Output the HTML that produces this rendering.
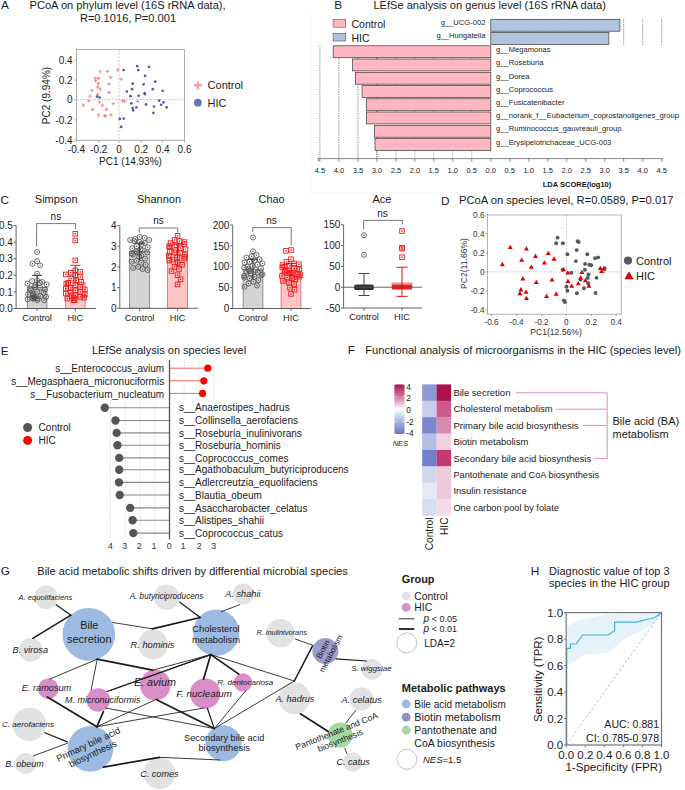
<!DOCTYPE html>
<html><head><meta charset="utf-8"><style>
html,body{margin:0;padding:0;background:#fff;}
svg{display:block;font-family:"Liberation Sans",sans-serif;}
</style></head><body>
<svg width="685" height="790" viewBox="0 0 685 790">
<rect width="685" height="790" fill="#fff"/>
<text x="1.0" y="9.0" font-size="11.8" text-anchor="start" fill="#1a1a1a" >A</text>
<text x="29.5" y="8.9" font-size="11.1" text-anchor="start" fill="#1a1a1a" >PCoA on phylum level (16S rRNA data),</text>
<text x="128.0" y="21.5" font-size="11.1" text-anchor="middle" fill="#1a1a1a" >R=0.1016, P=0.001</text>
<line x1="119.1" y1="49.4" x2="119.1" y2="140.3" stroke="#b0b0b0" stroke-width="0.7" stroke-dasharray="2,1.5"/>
<line x1="76.5" y1="99.6" x2="184.5" y2="99.6" stroke="#b0b0b0" stroke-width="0.7" stroke-dasharray="2,1.5"/>
<rect x="76.5" y="49.4" width="108.0" height="90.9" fill="none" stroke="#9a9a9a" stroke-width="0.8"/>
<line x1="74.3" y1="60.1" x2="76.5" y2="60.1" stroke="#9a9a9a" stroke-width="0.8"/>
<text x="72.6" y="63.7" font-size="10" text-anchor="end" fill="#1a1a1a" >0.4</text>
<line x1="74.3" y1="80.0" x2="76.5" y2="80.0" stroke="#9a9a9a" stroke-width="0.8"/>
<text x="72.6" y="83.6" font-size="10" text-anchor="end" fill="#1a1a1a" >0.2</text>
<line x1="74.3" y1="99.6" x2="76.5" y2="99.6" stroke="#9a9a9a" stroke-width="0.8"/>
<text x="72.6" y="103.2" font-size="10" text-anchor="end" fill="#1a1a1a" >0</text>
<line x1="74.3" y1="119.9" x2="76.5" y2="119.9" stroke="#9a9a9a" stroke-width="0.8"/>
<text x="72.6" y="123.5" font-size="10" text-anchor="end" fill="#1a1a1a" >-0.2</text>
<line x1="74.3" y1="140.0" x2="76.5" y2="140.0" stroke="#9a9a9a" stroke-width="0.8"/>
<text x="72.6" y="143.6" font-size="10" text-anchor="end" fill="#1a1a1a" >-0.4</text>
<line x1="76.5" y1="140.3" x2="76.5" y2="142.5" stroke="#9a9a9a" stroke-width="0.8"/>
<text x="76.5" y="153.0" font-size="10" text-anchor="middle" fill="#1a1a1a" >-0.4</text>
<line x1="98.7" y1="140.3" x2="98.7" y2="142.5" stroke="#9a9a9a" stroke-width="0.8"/>
<text x="98.7" y="153.0" font-size="10" text-anchor="middle" fill="#1a1a1a" >-0.2</text>
<line x1="119.1" y1="140.3" x2="119.1" y2="142.5" stroke="#9a9a9a" stroke-width="0.8"/>
<text x="119.1" y="153.0" font-size="10" text-anchor="middle" fill="#1a1a1a" >0</text>
<line x1="141.2" y1="140.3" x2="141.2" y2="142.5" stroke="#9a9a9a" stroke-width="0.8"/>
<text x="141.2" y="153.0" font-size="10" text-anchor="middle" fill="#1a1a1a" >0.2</text>
<line x1="162.6" y1="140.3" x2="162.6" y2="142.5" stroke="#9a9a9a" stroke-width="0.8"/>
<text x="162.6" y="153.0" font-size="10" text-anchor="middle" fill="#1a1a1a" >0.4</text>
<line x1="184.5" y1="140.3" x2="184.5" y2="142.5" stroke="#9a9a9a" stroke-width="0.8"/>
<text x="184.5" y="153.0" font-size="10" text-anchor="middle" fill="#1a1a1a" >0.6</text>
<text x="130.5" y="164.9" font-size="10" text-anchor="middle" fill="#1a1a1a" >PC1 (14.93%)</text>
<text x="0.0" y="0.0" font-size="10" text-anchor="middle" fill="#1a1a1a" transform="translate(50.2,95.5) rotate(-90)">PC2 (9.94%)</text>
<path d="M98.39,71.80h3.4M100.09,70.10v3.4" stroke="#f08a8a" stroke-width="1.1"/>
<path d="M105.62,71.48h3.4M107.32,69.78v3.4" stroke="#f08a8a" stroke-width="1.1"/>
<path d="M116.05,70.04h3.4M117.75,68.34v3.4" stroke="#f08a8a" stroke-width="1.1"/>
<path d="M108.99,77.42h3.4M110.69,75.72v3.4" stroke="#f08a8a" stroke-width="1.1"/>
<path d="M119.59,79.19h3.4M121.29,77.49v3.4" stroke="#f08a8a" stroke-width="1.1"/>
<path d="M93.57,78.55h3.4M95.27,76.85v3.4" stroke="#f08a8a" stroke-width="1.1"/>
<path d="M96.94,78.39h3.4M98.64,76.69v3.4" stroke="#f08a8a" stroke-width="1.1"/>
<path d="M93.89,80.80h3.4M95.59,79.10v3.4" stroke="#f08a8a" stroke-width="1.1"/>
<path d="M96.78,83.53h3.4M98.48,81.83v3.4" stroke="#f08a8a" stroke-width="1.1"/>
<path d="M107.38,83.85h3.4M109.08,82.15v3.4" stroke="#f08a8a" stroke-width="1.1"/>
<path d="M95.98,87.06h3.4M97.68,85.36v3.4" stroke="#f08a8a" stroke-width="1.1"/>
<path d="M98.39,89.15h3.4M100.09,87.45v3.4" stroke="#f08a8a" stroke-width="1.1"/>
<path d="M90.36,90.27h3.4M92.06,88.57v3.4" stroke="#f08a8a" stroke-width="1.1"/>
<path d="M107.38,92.36h3.4M109.08,90.66v3.4" stroke="#f08a8a" stroke-width="1.1"/>
<path d="M95.98,94.29h3.4M97.68,92.59v3.4" stroke="#f08a8a" stroke-width="1.1"/>
<path d="M88.27,96.21h3.4M89.97,94.51v3.4" stroke="#f08a8a" stroke-width="1.1"/>
<path d="M87.15,100.87h3.4M88.85,99.17v3.4" stroke="#f08a8a" stroke-width="1.1"/>
<path d="M97.75,102.00h3.4M99.45,100.30v3.4" stroke="#f08a8a" stroke-width="1.1"/>
<path d="M111.56,103.76h3.4M113.26,102.06v3.4" stroke="#f08a8a" stroke-width="1.1"/>
<path d="M81.69,105.21h3.4M83.39,103.51v3.4" stroke="#f08a8a" stroke-width="1.1"/>
<path d="M100.80,105.21h3.4M102.50,103.51v3.4" stroke="#f08a8a" stroke-width="1.1"/>
<path d="M120.71,100.71h3.4M122.41,99.01v3.4" stroke="#f08a8a" stroke-width="1.1"/>
<path d="M122.80,101.19h3.4M124.50,99.49v3.4" stroke="#f08a8a" stroke-width="1.1"/>
<path d="M136.13,101.35h3.4M137.83,99.65v3.4" stroke="#f08a8a" stroke-width="1.1"/>
<path d="M90.84,109.54h3.4M92.54,107.84v3.4" stroke="#f08a8a" stroke-width="1.1"/>
<path d="M104.81,109.38h3.4M106.51,107.68v3.4" stroke="#f08a8a" stroke-width="1.1"/>
<path d="M96.78,115.00h3.4M98.48,113.30v3.4" stroke="#f08a8a" stroke-width="1.1"/>
<path d="M102.89,116.13h3.4M104.59,114.43v3.4" stroke="#f08a8a" stroke-width="1.1"/>
<path d="M103.53,115.65h3.4M105.23,113.95v3.4" stroke="#f08a8a" stroke-width="1.1"/>
<path d="M109.31,114.84h3.4M111.01,113.14v3.4" stroke="#f08a8a" stroke-width="1.1"/>
<circle cx="137.19" cy="66.18" r="1.35" fill="#4f5ca8"/>
<circle cx="149.07" cy="66.83" r="1.35" fill="#4f5ca8"/>
<circle cx="123.70" cy="70.04" r="1.35" fill="#4f5ca8"/>
<circle cx="138.31" cy="70.04" r="1.35" fill="#4f5ca8"/>
<circle cx="145.05" cy="75.82" r="1.35" fill="#4f5ca8"/>
<circle cx="155.17" cy="81.60" r="1.35" fill="#4f5ca8"/>
<circle cx="132.69" cy="83.69" r="1.35" fill="#4f5ca8"/>
<circle cx="143.61" cy="84.33" r="1.35" fill="#4f5ca8"/>
<circle cx="132.05" cy="89.15" r="1.35" fill="#4f5ca8"/>
<circle cx="152.76" cy="89.15" r="1.35" fill="#4f5ca8"/>
<circle cx="126.91" cy="91.56" r="1.35" fill="#4f5ca8"/>
<circle cx="162.72" cy="90.75" r="1.35" fill="#4f5ca8"/>
<circle cx="144.73" cy="93.16" r="1.35" fill="#4f5ca8"/>
<circle cx="144.89" cy="94.13" r="1.35" fill="#4f5ca8"/>
<circle cx="138.63" cy="95.73" r="1.35" fill="#4f5ca8"/>
<circle cx="130.44" cy="96.21" r="1.35" fill="#4f5ca8"/>
<circle cx="97.04" cy="96.53" r="1.35" fill="#4f5ca8"/>
<circle cx="99.61" cy="97.50" r="1.35" fill="#4f5ca8"/>
<circle cx="159.19" cy="100.71" r="1.35" fill="#4f5ca8"/>
<circle cx="163.52" cy="102.32" r="1.35" fill="#4f5ca8"/>
<circle cx="131.24" cy="103.28" r="1.35" fill="#4f5ca8"/>
<circle cx="146.02" cy="104.40" r="1.35" fill="#4f5ca8"/>
<circle cx="161.11" cy="104.73" r="1.35" fill="#4f5ca8"/>
<circle cx="132.69" cy="108.10" r="1.35" fill="#4f5ca8"/>
<circle cx="136.38" cy="107.46" r="1.35" fill="#4f5ca8"/>
<circle cx="154.05" cy="106.49" r="1.35" fill="#4f5ca8"/>
<circle cx="133.17" cy="110.35" r="1.35" fill="#4f5ca8"/>
<circle cx="166.73" cy="107.29" r="1.35" fill="#4f5ca8"/>
<circle cx="153.40" cy="112.92" r="1.35" fill="#4f5ca8"/>
<circle cx="119.84" cy="118.86" r="1.35" fill="#4f5ca8"/>
<circle cx="123.70" cy="118.54" r="1.35" fill="#4f5ca8"/>
<circle cx="121.13" cy="126.89" r="1.35" fill="#4f5ca8"/>
<path d="M194,85.3h7.8M197.9,81.4v7.8" stroke="#f4a0a0" stroke-width="2.4"/>
<text x="207.6" y="89.3" font-size="11" text-anchor="start" fill="#1a1a1a" >Control</text>
<circle cx="197.9" cy="102.7" r="3.9" fill="#6b77b5"/>
<text x="207.6" y="106.7" font-size="11" text-anchor="start" fill="#1a1a1a" >HIC</text>
<path d="M310.8,15.2V192.6H684" fill="none" stroke="#f3f3f3" stroke-width="0.8"/>
<text x="338.2" y="9.0" font-size="11.8" text-anchor="middle" fill="#1a1a1a" >B</text>
<text x="373.4" y="9.3" font-size="11.1" text-anchor="start" fill="#1a1a1a" >LEfSe analysis on genus level (16S rRNA data)</text>
<line x1="471.8" y1="45.8" x2="471.8" y2="158.6" stroke="#666" stroke-width="0.6" stroke-dasharray="1.2,1.2"/>
<line x1="509.8" y1="19.3" x2="509.8" y2="45.8" stroke="#666" stroke-width="0.6" stroke-dasharray="1.2,1.2"/>
<line x1="452.8" y1="45.8" x2="452.8" y2="158.6" stroke="#666" stroke-width="0.6" stroke-dasharray="1.2,1.2"/>
<line x1="528.8" y1="19.3" x2="528.8" y2="45.8" stroke="#666" stroke-width="0.6" stroke-dasharray="1.2,1.2"/>
<line x1="433.8" y1="45.8" x2="433.8" y2="158.6" stroke="#666" stroke-width="0.6" stroke-dasharray="1.2,1.2"/>
<line x1="547.8" y1="19.3" x2="547.8" y2="45.8" stroke="#666" stroke-width="0.6" stroke-dasharray="1.2,1.2"/>
<line x1="414.9" y1="45.8" x2="414.9" y2="158.6" stroke="#666" stroke-width="0.6" stroke-dasharray="1.2,1.2"/>
<line x1="566.7" y1="19.3" x2="566.7" y2="45.8" stroke="#666" stroke-width="0.6" stroke-dasharray="1.2,1.2"/>
<line x1="395.9" y1="45.8" x2="395.9" y2="158.6" stroke="#666" stroke-width="0.6" stroke-dasharray="1.2,1.2"/>
<line x1="585.7" y1="19.3" x2="585.7" y2="45.8" stroke="#666" stroke-width="0.6" stroke-dasharray="1.2,1.2"/>
<line x1="376.9" y1="45.8" x2="376.9" y2="158.6" stroke="#666" stroke-width="0.6" stroke-dasharray="1.2,1.2"/>
<line x1="604.7" y1="19.3" x2="604.7" y2="45.8" stroke="#666" stroke-width="0.6" stroke-dasharray="1.2,1.2"/>
<line x1="357.9" y1="45.8" x2="357.9" y2="158.6" stroke="#444" stroke-width="0.7" stroke-dasharray="1.2,1.2"/>
<line x1="623.7" y1="19.3" x2="623.7" y2="45.8" stroke="#444" stroke-width="0.7" stroke-dasharray="1.2,1.2"/>
<line x1="338.9" y1="45.8" x2="338.9" y2="158.6" stroke="#444" stroke-width="0.7" stroke-dasharray="1.2,1.2"/>
<line x1="642.7" y1="19.3" x2="642.7" y2="45.8" stroke="#444" stroke-width="0.7" stroke-dasharray="1.2,1.2"/>
<line x1="319.9" y1="45.8" x2="319.9" y2="158.6" stroke="#444" stroke-width="0.7" stroke-dasharray="1.2,1.2"/>
<line x1="661.7" y1="19.3" x2="661.7" y2="45.8" stroke="#444" stroke-width="0.7" stroke-dasharray="1.2,1.2"/>
<line x1="376.9" y1="45.8" x2="376.9" y2="158.6" stroke="#444" stroke-width="0.7" stroke-dasharray="1.2,1.2"/>
<rect x="490.8" y="19.3" width="129.1" height="11.9" fill="#b0c4de" stroke="#3a3a3a" stroke-width="0.7"/>
<text x="485.4" y="25.1" font-size="7.6" text-anchor="end" fill="#222" >g__UCG-002</text>
<rect x="490.8" y="32.5" width="118.1" height="11.9" fill="#b0c4de" stroke="#3a3a3a" stroke-width="0.7"/>
<text x="485.4" y="38.4" font-size="7.6" text-anchor="end" fill="#222" >g__Hungatella</text>
<rect x="333.2" y="45.8" width="157.6" height="11.9" fill="#ffb6c1" stroke="#3a3a3a" stroke-width="0.7"/>
<text x="496.1" y="52.0" font-size="7.6" text-anchor="start" fill="#222" >g__Megamonas</text>
<rect x="352.6" y="59.0" width="138.2" height="11.9" fill="#ffb6c1" stroke="#3a3a3a" stroke-width="0.7"/>
<text x="496.1" y="65.2" font-size="7.6" text-anchor="start" fill="#222" >g__Roseburia</text>
<rect x="355.6" y="72.3" width="135.2" height="11.9" fill="#ffb6c1" stroke="#3a3a3a" stroke-width="0.7"/>
<text x="496.1" y="78.5" font-size="7.6" text-anchor="start" fill="#222" >g__Dorea</text>
<rect x="362.1" y="85.5" width="128.7" height="11.9" fill="#ffb6c1" stroke="#3a3a3a" stroke-width="0.7"/>
<text x="496.1" y="91.7" font-size="7.6" text-anchor="start" fill="#222" >g__Coprococcus</text>
<rect x="366.6" y="98.8" width="124.2" height="11.9" fill="#ffb6c1" stroke="#3a3a3a" stroke-width="0.7"/>
<text x="496.1" y="105.0" font-size="7.6" text-anchor="start" fill="#222" >g__Fusicatenibacter</text>
<rect x="366.6" y="112.0" width="124.2" height="11.9" fill="#ffb6c1" stroke="#3a3a3a" stroke-width="0.7"/>
<text x="496.1" y="118.2" font-size="7.6" text-anchor="start" fill="#222" >g__norank_f__Eubacterium_coprostanoligenes_group</text>
<rect x="374.6" y="125.3" width="116.2" height="11.9" fill="#ffb6c1" stroke="#3a3a3a" stroke-width="0.7"/>
<text x="496.1" y="131.4" font-size="7.6" text-anchor="start" fill="#222" >g__Ruminococcus_gauvreauii_group</text>
<rect x="375.0" y="138.6" width="115.8" height="11.9" fill="#ffb6c1" stroke="#3a3a3a" stroke-width="0.7"/>
<text x="496.1" y="144.7" font-size="7.6" text-anchor="start" fill="#222" >g__Erysipelotrichaceae_UCG-003</text>
<rect x="333.1" y="19.6" width="12.6" height="7.6" fill="#ffb6c1" stroke="#555" stroke-width="0.6"/>
<text x="351.5" y="28.0" font-size="10.5" text-anchor="start" fill="#1a1a1a" >Control</text>
<rect x="333.1" y="33.4" width="12.6" height="7.6" fill="#b0c4de" stroke="#555" stroke-width="0.6"/>
<text x="351.5" y="41.8" font-size="10.5" text-anchor="start" fill="#1a1a1a" >HIC</text>
<line x1="317.9" y1="158.6" x2="663.2" y2="158.6" stroke="#555" stroke-width="0.7"/>
<line x1="319.9" y1="158.6" x2="319.9" y2="161.6" stroke="#555" stroke-width="0.7"/>
<text x="319.9" y="172.5" font-size="7.5" text-anchor="middle" fill="#222" >4.5</text>
<line x1="338.9" y1="158.6" x2="338.9" y2="161.6" stroke="#555" stroke-width="0.7"/>
<text x="338.9" y="172.5" font-size="7.5" text-anchor="middle" fill="#222" >4.0</text>
<line x1="357.9" y1="158.6" x2="357.9" y2="161.6" stroke="#555" stroke-width="0.7"/>
<text x="357.9" y="172.5" font-size="7.5" text-anchor="middle" fill="#222" >3.5</text>
<line x1="376.9" y1="158.6" x2="376.9" y2="161.6" stroke="#555" stroke-width="0.7"/>
<text x="376.9" y="172.5" font-size="7.5" text-anchor="middle" fill="#222" >3.0</text>
<line x1="395.9" y1="158.6" x2="395.9" y2="161.6" stroke="#555" stroke-width="0.7"/>
<text x="395.9" y="172.5" font-size="7.5" text-anchor="middle" fill="#222" >2.5</text>
<line x1="414.9" y1="158.6" x2="414.9" y2="161.6" stroke="#555" stroke-width="0.7"/>
<text x="414.9" y="172.5" font-size="7.5" text-anchor="middle" fill="#222" >2.0</text>
<line x1="433.8" y1="158.6" x2="433.8" y2="161.6" stroke="#555" stroke-width="0.7"/>
<text x="433.8" y="172.5" font-size="7.5" text-anchor="middle" fill="#222" >1.5</text>
<line x1="452.8" y1="158.6" x2="452.8" y2="161.6" stroke="#555" stroke-width="0.7"/>
<text x="452.8" y="172.5" font-size="7.5" text-anchor="middle" fill="#222" >1.0</text>
<line x1="471.8" y1="158.6" x2="471.8" y2="161.6" stroke="#555" stroke-width="0.7"/>
<text x="471.8" y="172.5" font-size="7.5" text-anchor="middle" fill="#222" >0.5</text>
<line x1="490.8" y1="158.6" x2="490.8" y2="161.6" stroke="#555" stroke-width="0.7"/>
<text x="490.8" y="172.5" font-size="7.5" text-anchor="middle" fill="#222" >0.0</text>
<line x1="509.8" y1="158.6" x2="509.8" y2="161.6" stroke="#555" stroke-width="0.7"/>
<text x="509.8" y="172.5" font-size="7.5" text-anchor="middle" fill="#222" >0.5</text>
<line x1="528.8" y1="158.6" x2="528.8" y2="161.6" stroke="#555" stroke-width="0.7"/>
<text x="528.8" y="172.5" font-size="7.5" text-anchor="middle" fill="#222" >1.0</text>
<line x1="547.8" y1="158.6" x2="547.8" y2="161.6" stroke="#555" stroke-width="0.7"/>
<text x="547.8" y="172.5" font-size="7.5" text-anchor="middle" fill="#222" >1.5</text>
<line x1="566.7" y1="158.6" x2="566.7" y2="161.6" stroke="#555" stroke-width="0.7"/>
<text x="566.7" y="172.5" font-size="7.5" text-anchor="middle" fill="#222" >2.0</text>
<line x1="585.7" y1="158.6" x2="585.7" y2="161.6" stroke="#555" stroke-width="0.7"/>
<text x="585.7" y="172.5" font-size="7.5" text-anchor="middle" fill="#222" >2.5</text>
<line x1="604.7" y1="158.6" x2="604.7" y2="161.6" stroke="#555" stroke-width="0.7"/>
<text x="604.7" y="172.5" font-size="7.5" text-anchor="middle" fill="#222" >3.0</text>
<line x1="623.7" y1="158.6" x2="623.7" y2="161.6" stroke="#555" stroke-width="0.7"/>
<text x="623.7" y="172.5" font-size="7.5" text-anchor="middle" fill="#222" >3.5</text>
<line x1="642.7" y1="158.6" x2="642.7" y2="161.6" stroke="#555" stroke-width="0.7"/>
<text x="642.7" y="172.5" font-size="7.5" text-anchor="middle" fill="#222" >4.0</text>
<line x1="661.7" y1="158.6" x2="661.7" y2="161.6" stroke="#555" stroke-width="0.7"/>
<text x="661.7" y="172.5" font-size="7.5" text-anchor="middle" fill="#222" >4.5</text>
<line x1="318.4" y1="158.6" x2="318.4" y2="161.6" stroke="#555" stroke-width="0.7"/>
<text x="577.0" y="187.0" font-size="7.5" text-anchor="middle" fill="#111" font-weight="bold">LDA SCORE(log10)</text>
<text x="0.6" y="203.7" font-size="11.8" text-anchor="start" fill="#1a1a1a" >C</text>
<text x="56.2" y="203.4" font-size="11" text-anchor="middle" fill="#1a1a1a" >Simpson</text>
<rect x="27.3" y="287.25" width="19.599999999999998" height="21.25" fill="#d4d4d4" stroke="#7a7a7a" stroke-width="0.8"/>
<rect x="65.5" y="282.27" width="19.599999999999994" height="26.23" fill="#ffc4c4" stroke="#e06060" stroke-width="0.8"/>
<circle cx="37.10" cy="252.06" r="2.5" fill="none" stroke="#4a4a4a" stroke-width="0.8"/><circle cx="37.10" cy="252.06" r="0.7" fill="#4a4a4a"/>
<circle cx="37.10" cy="261.19" r="2.5" fill="none" stroke="#4a4a4a" stroke-width="0.8"/><circle cx="37.10" cy="261.19" r="0.7" fill="#4a4a4a"/>
<circle cx="32.60" cy="263.68" r="2.5" fill="none" stroke="#4a4a4a" stroke-width="0.8"/><circle cx="32.60" cy="263.68" r="0.7" fill="#4a4a4a"/>
<circle cx="40.10" cy="265.34" r="2.5" fill="none" stroke="#4a4a4a" stroke-width="0.8"/><circle cx="40.10" cy="265.34" r="0.7" fill="#4a4a4a"/>
<circle cx="37.10" cy="273.64" r="2.5" fill="none" stroke="#4a4a4a" stroke-width="0.8"/><circle cx="37.10" cy="273.64" r="0.7" fill="#4a4a4a"/>
<circle cx="37.10" cy="280.28" r="2.5" fill="none" stroke="#4a4a4a" stroke-width="0.8"/><circle cx="37.10" cy="280.28" r="0.7" fill="#4a4a4a"/>
<circle cx="32.10" cy="281.11" r="2.5" fill="none" stroke="#4a4a4a" stroke-width="0.8"/><circle cx="32.10" cy="281.11" r="0.7" fill="#4a4a4a"/>
<circle cx="42.10" cy="281.94" r="2.5" fill="none" stroke="#4a4a4a" stroke-width="0.8"/><circle cx="42.10" cy="281.94" r="0.7" fill="#4a4a4a"/>
<circle cx="39.82" cy="282.77" r="2.5" fill="none" stroke="#4a4a4a" stroke-width="0.8"/><circle cx="39.82" cy="282.77" r="0.7" fill="#4a4a4a"/>
<circle cx="27.60" cy="283.60" r="2.5" fill="none" stroke="#4a4a4a" stroke-width="0.8"/><circle cx="27.60" cy="283.60" r="0.7" fill="#4a4a4a"/>
<circle cx="46.60" cy="284.43" r="2.5" fill="none" stroke="#4a4a4a" stroke-width="0.8"/><circle cx="46.60" cy="284.43" r="0.7" fill="#4a4a4a"/>
<circle cx="35.10" cy="285.26" r="2.5" fill="none" stroke="#4a4a4a" stroke-width="0.8"/><circle cx="35.10" cy="285.26" r="0.7" fill="#4a4a4a"/>
<circle cx="35.17" cy="286.92" r="2.5" fill="none" stroke="#4a4a4a" stroke-width="0.8"/><circle cx="35.17" cy="286.92" r="0.7" fill="#4a4a4a"/>
<circle cx="40.10" cy="287.75" r="2.5" fill="none" stroke="#4a4a4a" stroke-width="0.8"/><circle cx="40.10" cy="287.75" r="0.7" fill="#4a4a4a"/>
<circle cx="30.10" cy="288.58" r="2.5" fill="none" stroke="#4a4a4a" stroke-width="0.8"/><circle cx="30.10" cy="288.58" r="0.7" fill="#4a4a4a"/>
<circle cx="45.10" cy="289.41" r="2.5" fill="none" stroke="#4a4a4a" stroke-width="0.8"/><circle cx="45.10" cy="289.41" r="0.7" fill="#4a4a4a"/>
<circle cx="30.92" cy="290.24" r="2.5" fill="none" stroke="#4a4a4a" stroke-width="0.8"/><circle cx="30.92" cy="290.24" r="0.7" fill="#4a4a4a"/>
<circle cx="37.10" cy="291.90" r="2.5" fill="none" stroke="#4a4a4a" stroke-width="0.8"/><circle cx="37.10" cy="291.90" r="0.7" fill="#4a4a4a"/>
<circle cx="43.47" cy="292.73" r="2.5" fill="none" stroke="#4a4a4a" stroke-width="0.8"/><circle cx="43.47" cy="292.73" r="0.7" fill="#4a4a4a"/>
<circle cx="33.15" cy="293.56" r="2.5" fill="none" stroke="#4a4a4a" stroke-width="0.8"/><circle cx="33.15" cy="293.56" r="0.7" fill="#4a4a4a"/>
<circle cx="28.10" cy="294.39" r="2.5" fill="none" stroke="#4a4a4a" stroke-width="0.8"/><circle cx="28.10" cy="294.39" r="0.7" fill="#4a4a4a"/>
<circle cx="32.91" cy="295.22" r="2.5" fill="none" stroke="#4a4a4a" stroke-width="0.8"/><circle cx="32.91" cy="295.22" r="0.7" fill="#4a4a4a"/>
<circle cx="40.31" cy="296.05" r="2.5" fill="none" stroke="#4a4a4a" stroke-width="0.8"/><circle cx="40.31" cy="296.05" r="0.7" fill="#4a4a4a"/>
<circle cx="46.10" cy="296.88" r="2.5" fill="none" stroke="#4a4a4a" stroke-width="0.8"/><circle cx="46.10" cy="296.88" r="0.7" fill="#4a4a4a"/>
<circle cx="34.16" cy="296.88" r="2.5" fill="none" stroke="#4a4a4a" stroke-width="0.8"/><circle cx="34.16" cy="296.88" r="0.7" fill="#4a4a4a"/>
<circle cx="34.41" cy="297.71" r="2.5" fill="none" stroke="#4a4a4a" stroke-width="0.8"/><circle cx="34.41" cy="297.71" r="0.7" fill="#4a4a4a"/>
<circle cx="33.31" cy="298.54" r="2.5" fill="none" stroke="#4a4a4a" stroke-width="0.8"/><circle cx="33.31" cy="298.54" r="0.7" fill="#4a4a4a"/>
<circle cx="32.81" cy="298.54" r="2.5" fill="none" stroke="#4a4a4a" stroke-width="0.8"/><circle cx="32.81" cy="298.54" r="0.7" fill="#4a4a4a"/>
<circle cx="37.64" cy="298.54" r="2.5" fill="none" stroke="#4a4a4a" stroke-width="0.8"/><circle cx="37.64" cy="298.54" r="0.7" fill="#4a4a4a"/>
<circle cx="27.60" cy="299.37" r="2.5" fill="none" stroke="#4a4a4a" stroke-width="0.8"/><circle cx="27.60" cy="299.37" r="0.7" fill="#4a4a4a"/>
<circle cx="44.00" cy="300.20" r="2.5" fill="none" stroke="#4a4a4a" stroke-width="0.8"/><circle cx="44.00" cy="300.20" r="0.7" fill="#4a4a4a"/>
<circle cx="37.20" cy="300.20" r="2.5" fill="none" stroke="#4a4a4a" stroke-width="0.8"/><circle cx="37.20" cy="300.20" r="0.7" fill="#4a4a4a"/>
<rect x="73.00" y="231.50" width="4.6" height="4.6" fill="none" stroke="#ee1c1c" stroke-width="0.9"/><rect x="74.60" y="233.10" width="1.4" height="1.4" fill="#ee1c1c"/>
<rect x="73.00" y="238.14" width="4.6" height="4.6" fill="none" stroke="#ee1c1c" stroke-width="0.9"/><rect x="74.60" y="239.74" width="1.4" height="1.4" fill="#ee1c1c"/>
<rect x="73.00" y="258.06" width="4.6" height="4.6" fill="none" stroke="#ee1c1c" stroke-width="0.9"/><rect x="74.60" y="259.66" width="1.4" height="1.4" fill="#ee1c1c"/>
<rect x="73.00" y="268.02" width="4.6" height="4.6" fill="none" stroke="#ee1c1c" stroke-width="0.9"/><rect x="74.60" y="269.62" width="1.4" height="1.4" fill="#ee1c1c"/>
<rect x="78.00" y="269.68" width="4.6" height="4.6" fill="none" stroke="#ee1c1c" stroke-width="0.9"/><rect x="79.60" y="271.28" width="1.4" height="1.4" fill="#ee1c1c"/>
<rect x="68.50" y="270.51" width="4.6" height="4.6" fill="none" stroke="#ee1c1c" stroke-width="0.9"/><rect x="70.10" y="272.11" width="1.4" height="1.4" fill="#ee1c1c"/>
<rect x="63.50" y="272.17" width="4.6" height="4.6" fill="none" stroke="#ee1c1c" stroke-width="0.9"/><rect x="65.10" y="273.77" width="1.4" height="1.4" fill="#ee1c1c"/>
<rect x="73.00" y="273.00" width="4.6" height="4.6" fill="none" stroke="#ee1c1c" stroke-width="0.9"/><rect x="74.60" y="274.60" width="1.4" height="1.4" fill="#ee1c1c"/>
<rect x="78.00" y="274.66" width="4.6" height="4.6" fill="none" stroke="#ee1c1c" stroke-width="0.9"/><rect x="79.60" y="276.26" width="1.4" height="1.4" fill="#ee1c1c"/>
<rect x="69.00" y="276.32" width="4.6" height="4.6" fill="none" stroke="#ee1c1c" stroke-width="0.9"/><rect x="70.60" y="277.92" width="1.4" height="1.4" fill="#ee1c1c"/>
<rect x="74.00" y="277.98" width="4.6" height="4.6" fill="none" stroke="#ee1c1c" stroke-width="0.9"/><rect x="75.60" y="279.58" width="1.4" height="1.4" fill="#ee1c1c"/>
<rect x="79.00" y="279.64" width="4.6" height="4.6" fill="none" stroke="#ee1c1c" stroke-width="0.9"/><rect x="80.60" y="281.24" width="1.4" height="1.4" fill="#ee1c1c"/>
<rect x="66.00" y="280.47" width="4.6" height="4.6" fill="none" stroke="#ee1c1c" stroke-width="0.9"/><rect x="67.60" y="282.07" width="1.4" height="1.4" fill="#ee1c1c"/>
<rect x="64.04" y="281.30" width="4.6" height="4.6" fill="none" stroke="#ee1c1c" stroke-width="0.9"/><rect x="65.64" y="282.90" width="1.4" height="1.4" fill="#ee1c1c"/>
<rect x="73.00" y="282.96" width="4.6" height="4.6" fill="none" stroke="#ee1c1c" stroke-width="0.9"/><rect x="74.60" y="284.56" width="1.4" height="1.4" fill="#ee1c1c"/>
<rect x="78.00" y="284.62" width="4.6" height="4.6" fill="none" stroke="#ee1c1c" stroke-width="0.9"/><rect x="79.60" y="286.22" width="1.4" height="1.4" fill="#ee1c1c"/>
<rect x="68.50" y="285.45" width="4.6" height="4.6" fill="none" stroke="#ee1c1c" stroke-width="0.9"/><rect x="70.10" y="287.05" width="1.4" height="1.4" fill="#ee1c1c"/>
<rect x="63.50" y="286.28" width="4.6" height="4.6" fill="none" stroke="#ee1c1c" stroke-width="0.9"/><rect x="65.10" y="287.88" width="1.4" height="1.4" fill="#ee1c1c"/>
<rect x="82.50" y="287.11" width="4.6" height="4.6" fill="none" stroke="#ee1c1c" stroke-width="0.9"/><rect x="84.10" y="288.71" width="1.4" height="1.4" fill="#ee1c1c"/>
<rect x="73.00" y="287.94" width="4.6" height="4.6" fill="none" stroke="#ee1c1c" stroke-width="0.9"/><rect x="74.60" y="289.54" width="1.4" height="1.4" fill="#ee1c1c"/>
<rect x="78.00" y="289.60" width="4.6" height="4.6" fill="none" stroke="#ee1c1c" stroke-width="0.9"/><rect x="79.60" y="291.20" width="1.4" height="1.4" fill="#ee1c1c"/>
<rect x="68.50" y="290.43" width="4.6" height="4.6" fill="none" stroke="#ee1c1c" stroke-width="0.9"/><rect x="70.10" y="292.03" width="1.4" height="1.4" fill="#ee1c1c"/>
<rect x="63.50" y="291.26" width="4.6" height="4.6" fill="none" stroke="#ee1c1c" stroke-width="0.9"/><rect x="65.10" y="292.86" width="1.4" height="1.4" fill="#ee1c1c"/>
<rect x="82.50" y="292.09" width="4.6" height="4.6" fill="none" stroke="#ee1c1c" stroke-width="0.9"/><rect x="84.10" y="293.69" width="1.4" height="1.4" fill="#ee1c1c"/>
<rect x="73.00" y="292.92" width="4.6" height="4.6" fill="none" stroke="#ee1c1c" stroke-width="0.9"/><rect x="74.60" y="294.52" width="1.4" height="1.4" fill="#ee1c1c"/>
<rect x="69.32" y="293.75" width="4.6" height="4.6" fill="none" stroke="#ee1c1c" stroke-width="0.9"/><rect x="70.92" y="295.35" width="1.4" height="1.4" fill="#ee1c1c"/>
<rect x="78.00" y="294.58" width="4.6" height="4.6" fill="none" stroke="#ee1c1c" stroke-width="0.9"/><rect x="79.60" y="296.18" width="1.4" height="1.4" fill="#ee1c1c"/>
<rect x="81.76" y="295.41" width="4.6" height="4.6" fill="none" stroke="#ee1c1c" stroke-width="0.9"/><rect x="83.36" y="297.01" width="1.4" height="1.4" fill="#ee1c1c"/>
<rect x="65.00" y="296.24" width="4.6" height="4.6" fill="none" stroke="#ee1c1c" stroke-width="0.9"/><rect x="66.60" y="297.84" width="1.4" height="1.4" fill="#ee1c1c"/>
<rect x="71.77" y="296.24" width="4.6" height="4.6" fill="none" stroke="#ee1c1c" stroke-width="0.9"/><rect x="73.37" y="297.84" width="1.4" height="1.4" fill="#ee1c1c"/>
<rect x="72.26" y="297.90" width="4.6" height="4.6" fill="none" stroke="#ee1c1c" stroke-width="0.9"/><rect x="73.86" y="299.50" width="1.4" height="1.4" fill="#ee1c1c"/>
<rect x="71.21" y="297.90" width="4.6" height="4.6" fill="none" stroke="#ee1c1c" stroke-width="0.9"/><rect x="72.81" y="299.50" width="1.4" height="1.4" fill="#ee1c1c"/>
<path d="M37.1,287.25V275.30M32.1,275.30h10" stroke="#333" stroke-width="1" fill="none"/>
<path d="M75.3,282.27V265.34M70.3,265.34h10" stroke="#e01010" stroke-width="1" fill="none"/>
<line x1="16.1" y1="225.50" x2="16.1" y2="308.5" stroke="#555" stroke-width="0.9"/>
<line x1="16.1" y1="308.5" x2="95.6" y2="308.5" stroke="#555" stroke-width="0.9"/>
<line x1="13.500000000000002" y1="308.50" x2="16.1" y2="308.50" stroke="#555" stroke-width="0.9"/>
<text x="12.8" y="312.1" font-size="10" text-anchor="end" fill="#1a1a1a" >0.0</text>
<line x1="13.500000000000002" y1="291.90" x2="16.1" y2="291.90" stroke="#555" stroke-width="0.9"/>
<text x="12.8" y="295.5" font-size="10" text-anchor="end" fill="#1a1a1a" >0.1</text>
<line x1="13.500000000000002" y1="275.30" x2="16.1" y2="275.30" stroke="#555" stroke-width="0.9"/>
<text x="12.8" y="278.9" font-size="10" text-anchor="end" fill="#1a1a1a" >0.2</text>
<line x1="13.500000000000002" y1="258.70" x2="16.1" y2="258.70" stroke="#555" stroke-width="0.9"/>
<text x="12.8" y="262.3" font-size="10" text-anchor="end" fill="#1a1a1a" >0.3</text>
<line x1="13.500000000000002" y1="242.10" x2="16.1" y2="242.10" stroke="#555" stroke-width="0.9"/>
<text x="12.8" y="245.7" font-size="10" text-anchor="end" fill="#1a1a1a" >0.4</text>
<line x1="13.500000000000002" y1="225.50" x2="16.1" y2="225.50" stroke="#555" stroke-width="0.9"/>
<text x="12.8" y="229.1" font-size="10" text-anchor="end" fill="#1a1a1a" >0.5</text>
<line x1="37.1" y1="308.5" x2="37.1" y2="311.0" stroke="#555" stroke-width="0.9"/>
<line x1="75.3" y1="308.5" x2="75.3" y2="311.0" stroke="#555" stroke-width="0.9"/>
<text x="37.1" y="321.1" font-size="9.2" text-anchor="middle" fill="#1a1a1a" >Control</text>
<text x="75.3" y="321.1" font-size="9.2" text-anchor="middle" fill="#1a1a1a" >HIC</text>
<path d="M36.6,246.6V223.6H75.6V228.9" stroke="#555" stroke-width="0.8" fill="none"/>
<text x="55.9" y="220.0" font-size="10" text-anchor="middle" fill="#1a1a1a" >ns</text>
<text x="159.0" y="203.4" font-size="11" text-anchor="middle" fill="#1a1a1a" >Shannon</text>
<rect x="129.6" y="251.58" width="20.099999999999994" height="56.72" fill="#d4d4d4" stroke="#7a7a7a" stroke-width="0.8"/>
<rect x="167.5" y="254.48" width="20.099999999999994" height="53.82" fill="#ffc4c4" stroke="#e06060" stroke-width="0.8"/>
<circle cx="139.65" cy="236.88" r="2.5" fill="none" stroke="#4a4a4a" stroke-width="0.8"/><circle cx="139.65" cy="236.88" r="0.7" fill="#4a4a4a"/>
<circle cx="144.65" cy="237.92" r="2.5" fill="none" stroke="#4a4a4a" stroke-width="0.8"/><circle cx="144.65" cy="237.92" r="0.7" fill="#4a4a4a"/>
<circle cx="135.15" cy="238.96" r="2.5" fill="none" stroke="#4a4a4a" stroke-width="0.8"/><circle cx="135.15" cy="238.96" r="0.7" fill="#4a4a4a"/>
<circle cx="130.15" cy="239.99" r="2.5" fill="none" stroke="#4a4a4a" stroke-width="0.8"/><circle cx="130.15" cy="239.99" r="0.7" fill="#4a4a4a"/>
<circle cx="149.15" cy="239.99" r="2.5" fill="none" stroke="#4a4a4a" stroke-width="0.8"/><circle cx="149.15" cy="239.99" r="0.7" fill="#4a4a4a"/>
<circle cx="134.22" cy="241.03" r="2.5" fill="none" stroke="#4a4a4a" stroke-width="0.8"/><circle cx="134.22" cy="241.03" r="0.7" fill="#4a4a4a"/>
<circle cx="139.65" cy="242.06" r="2.5" fill="none" stroke="#4a4a4a" stroke-width="0.8"/><circle cx="139.65" cy="242.06" r="0.7" fill="#4a4a4a"/>
<circle cx="144.65" cy="243.10" r="2.5" fill="none" stroke="#4a4a4a" stroke-width="0.8"/><circle cx="144.65" cy="243.10" r="0.7" fill="#4a4a4a"/>
<circle cx="141.65" cy="244.13" r="2.5" fill="none" stroke="#4a4a4a" stroke-width="0.8"/><circle cx="141.65" cy="244.13" r="0.7" fill="#4a4a4a"/>
<circle cx="136.65" cy="246.20" r="2.5" fill="none" stroke="#4a4a4a" stroke-width="0.8"/><circle cx="136.65" cy="246.20" r="0.7" fill="#4a4a4a"/>
<circle cx="147.65" cy="247.24" r="2.5" fill="none" stroke="#4a4a4a" stroke-width="0.8"/><circle cx="147.65" cy="247.24" r="0.7" fill="#4a4a4a"/>
<circle cx="132.15" cy="248.27" r="2.5" fill="none" stroke="#4a4a4a" stroke-width="0.8"/><circle cx="132.15" cy="248.27" r="0.7" fill="#4a4a4a"/>
<circle cx="140.65" cy="249.31" r="2.5" fill="none" stroke="#4a4a4a" stroke-width="0.8"/><circle cx="140.65" cy="249.31" r="0.7" fill="#4a4a4a"/>
<circle cx="142.60" cy="250.34" r="2.5" fill="none" stroke="#4a4a4a" stroke-width="0.8"/><circle cx="142.60" cy="250.34" r="0.7" fill="#4a4a4a"/>
<circle cx="136.15" cy="251.38" r="2.5" fill="none" stroke="#4a4a4a" stroke-width="0.8"/><circle cx="136.15" cy="251.38" r="0.7" fill="#4a4a4a"/>
<circle cx="147.15" cy="252.41" r="2.5" fill="none" stroke="#4a4a4a" stroke-width="0.8"/><circle cx="147.15" cy="252.41" r="0.7" fill="#4a4a4a"/>
<circle cx="136.95" cy="252.41" r="2.5" fill="none" stroke="#4a4a4a" stroke-width="0.8"/><circle cx="136.95" cy="252.41" r="0.7" fill="#4a4a4a"/>
<circle cx="131.65" cy="253.45" r="2.5" fill="none" stroke="#4a4a4a" stroke-width="0.8"/><circle cx="131.65" cy="253.45" r="0.7" fill="#4a4a4a"/>
<circle cx="132.93" cy="254.48" r="2.5" fill="none" stroke="#4a4a4a" stroke-width="0.8"/><circle cx="132.93" cy="254.48" r="0.7" fill="#4a4a4a"/>
<circle cx="141.15" cy="255.52" r="2.5" fill="none" stroke="#4a4a4a" stroke-width="0.8"/><circle cx="141.15" cy="255.52" r="0.7" fill="#4a4a4a"/>
<circle cx="139.27" cy="256.55" r="2.5" fill="none" stroke="#4a4a4a" stroke-width="0.8"/><circle cx="139.27" cy="256.55" r="0.7" fill="#4a4a4a"/>
<circle cx="145.15" cy="258.62" r="2.5" fill="none" stroke="#4a4a4a" stroke-width="0.8"/><circle cx="145.15" cy="258.62" r="0.7" fill="#4a4a4a"/>
<circle cx="136.65" cy="260.69" r="2.5" fill="none" stroke="#4a4a4a" stroke-width="0.8"/><circle cx="136.65" cy="260.69" r="0.7" fill="#4a4a4a"/>
<circle cx="131.65" cy="261.73" r="2.5" fill="none" stroke="#4a4a4a" stroke-width="0.8"/><circle cx="131.65" cy="261.73" r="0.7" fill="#4a4a4a"/>
<circle cx="141.15" cy="262.76" r="2.5" fill="none" stroke="#4a4a4a" stroke-width="0.8"/><circle cx="141.15" cy="262.76" r="0.7" fill="#4a4a4a"/>
<circle cx="145.65" cy="264.83" r="2.5" fill="none" stroke="#4a4a4a" stroke-width="0.8"/><circle cx="145.65" cy="264.83" r="0.7" fill="#4a4a4a"/>
<circle cx="138.15" cy="266.90" r="2.5" fill="none" stroke="#4a4a4a" stroke-width="0.8"/><circle cx="138.15" cy="266.90" r="0.7" fill="#4a4a4a"/>
<circle cx="133.15" cy="267.94" r="2.5" fill="none" stroke="#4a4a4a" stroke-width="0.8"/><circle cx="133.15" cy="267.94" r="0.7" fill="#4a4a4a"/>
<circle cx="142.65" cy="268.97" r="2.5" fill="none" stroke="#4a4a4a" stroke-width="0.8"/><circle cx="142.65" cy="268.97" r="0.7" fill="#4a4a4a"/>
<circle cx="147.65" cy="270.00" r="2.5" fill="none" stroke="#4a4a4a" stroke-width="0.8"/><circle cx="147.65" cy="270.00" r="0.7" fill="#4a4a4a"/>
<rect x="175.25" y="233.55" width="4.6" height="4.6" fill="none" stroke="#ee1c1c" stroke-width="0.9"/><rect x="176.85" y="235.15" width="1.4" height="1.4" fill="#ee1c1c"/>
<rect x="172.25" y="237.69" width="4.6" height="4.6" fill="none" stroke="#ee1c1c" stroke-width="0.9"/><rect x="173.85" y="239.29" width="1.4" height="1.4" fill="#ee1c1c"/>
<rect x="177.25" y="238.73" width="4.6" height="4.6" fill="none" stroke="#ee1c1c" stroke-width="0.9"/><rect x="178.85" y="240.33" width="1.4" height="1.4" fill="#ee1c1c"/>
<rect x="182.25" y="239.76" width="4.6" height="4.6" fill="none" stroke="#ee1c1c" stroke-width="0.9"/><rect x="183.85" y="241.36" width="1.4" height="1.4" fill="#ee1c1c"/>
<rect x="168.25" y="240.80" width="4.6" height="4.6" fill="none" stroke="#ee1c1c" stroke-width="0.9"/><rect x="169.85" y="242.40" width="1.4" height="1.4" fill="#ee1c1c"/>
<rect x="181.76" y="241.83" width="4.6" height="4.6" fill="none" stroke="#ee1c1c" stroke-width="0.9"/><rect x="183.36" y="243.43" width="1.4" height="1.4" fill="#ee1c1c"/>
<rect x="174.25" y="242.87" width="4.6" height="4.6" fill="none" stroke="#ee1c1c" stroke-width="0.9"/><rect x="175.85" y="244.47" width="1.4" height="1.4" fill="#ee1c1c"/>
<rect x="166.80" y="243.90" width="4.6" height="4.6" fill="none" stroke="#ee1c1c" stroke-width="0.9"/><rect x="168.40" y="245.50" width="1.4" height="1.4" fill="#ee1c1c"/>
<rect x="167.81" y="244.94" width="4.6" height="4.6" fill="none" stroke="#ee1c1c" stroke-width="0.9"/><rect x="169.41" y="246.54" width="1.4" height="1.4" fill="#ee1c1c"/>
<rect x="178.25" y="245.97" width="4.6" height="4.6" fill="none" stroke="#ee1c1c" stroke-width="0.9"/><rect x="179.85" y="247.57" width="1.4" height="1.4" fill="#ee1c1c"/>
<rect x="183.25" y="247.00" width="4.6" height="4.6" fill="none" stroke="#ee1c1c" stroke-width="0.9"/><rect x="184.85" y="248.61" width="1.4" height="1.4" fill="#ee1c1c"/>
<rect x="173.75" y="248.04" width="4.6" height="4.6" fill="none" stroke="#ee1c1c" stroke-width="0.9"/><rect x="175.35" y="249.64" width="1.4" height="1.4" fill="#ee1c1c"/>
<rect x="167.34" y="249.07" width="4.6" height="4.6" fill="none" stroke="#ee1c1c" stroke-width="0.9"/><rect x="168.94" y="250.68" width="1.4" height="1.4" fill="#ee1c1c"/>
<rect x="172.08" y="250.11" width="4.6" height="4.6" fill="none" stroke="#ee1c1c" stroke-width="0.9"/><rect x="173.68" y="251.71" width="1.4" height="1.4" fill="#ee1c1c"/>
<rect x="177.75" y="251.15" width="4.6" height="4.6" fill="none" stroke="#ee1c1c" stroke-width="0.9"/><rect x="179.35" y="252.75" width="1.4" height="1.4" fill="#ee1c1c"/>
<rect x="182.75" y="252.18" width="4.6" height="4.6" fill="none" stroke="#ee1c1c" stroke-width="0.9"/><rect x="184.35" y="253.78" width="1.4" height="1.4" fill="#ee1c1c"/>
<rect x="166.48" y="253.22" width="4.6" height="4.6" fill="none" stroke="#ee1c1c" stroke-width="0.9"/><rect x="168.08" y="254.82" width="1.4" height="1.4" fill="#ee1c1c"/>
<rect x="182.33" y="254.25" width="4.6" height="4.6" fill="none" stroke="#ee1c1c" stroke-width="0.9"/><rect x="183.93" y="255.85" width="1.4" height="1.4" fill="#ee1c1c"/>
<rect x="174.75" y="255.29" width="4.6" height="4.6" fill="none" stroke="#ee1c1c" stroke-width="0.9"/><rect x="176.35" y="256.89" width="1.4" height="1.4" fill="#ee1c1c"/>
<rect x="181.83" y="256.32" width="4.6" height="4.6" fill="none" stroke="#ee1c1c" stroke-width="0.9"/><rect x="183.43" y="257.92" width="1.4" height="1.4" fill="#ee1c1c"/>
<rect x="170.25" y="257.36" width="4.6" height="4.6" fill="none" stroke="#ee1c1c" stroke-width="0.9"/><rect x="171.85" y="258.96" width="1.4" height="1.4" fill="#ee1c1c"/>
<rect x="166.99" y="258.39" width="4.6" height="4.6" fill="none" stroke="#ee1c1c" stroke-width="0.9"/><rect x="168.59" y="259.99" width="1.4" height="1.4" fill="#ee1c1c"/>
<rect x="175.25" y="260.46" width="4.6" height="4.6" fill="none" stroke="#ee1c1c" stroke-width="0.9"/><rect x="176.85" y="262.06" width="1.4" height="1.4" fill="#ee1c1c"/>
<rect x="179.75" y="262.53" width="4.6" height="4.6" fill="none" stroke="#ee1c1c" stroke-width="0.9"/><rect x="181.35" y="264.13" width="1.4" height="1.4" fill="#ee1c1c"/>
<rect x="172.25" y="264.60" width="4.6" height="4.6" fill="none" stroke="#ee1c1c" stroke-width="0.9"/><rect x="173.85" y="266.20" width="1.4" height="1.4" fill="#ee1c1c"/>
<rect x="176.75" y="266.67" width="4.6" height="4.6" fill="none" stroke="#ee1c1c" stroke-width="0.9"/><rect x="178.35" y="268.27" width="1.4" height="1.4" fill="#ee1c1c"/>
<rect x="169.25" y="268.74" width="4.6" height="4.6" fill="none" stroke="#ee1c1c" stroke-width="0.9"/><rect x="170.85" y="270.34" width="1.4" height="1.4" fill="#ee1c1c"/>
<rect x="175.25" y="272.88" width="4.6" height="4.6" fill="none" stroke="#ee1c1c" stroke-width="0.9"/><rect x="176.85" y="274.48" width="1.4" height="1.4" fill="#ee1c1c"/>
<rect x="178.25" y="277.02" width="4.6" height="4.6" fill="none" stroke="#ee1c1c" stroke-width="0.9"/><rect x="179.85" y="278.62" width="1.4" height="1.4" fill="#ee1c1c"/>
<rect x="175.25" y="282.19" width="4.6" height="4.6" fill="none" stroke="#ee1c1c" stroke-width="0.9"/><rect x="176.85" y="283.80" width="1.4" height="1.4" fill="#ee1c1c"/>
<path d="M139.64999999999998,260.69V243.10M134.64999999999998,243.10h10" stroke="#333" stroke-width="1" fill="none"/>
<path d="M177.55,266.90V244.13M172.55,244.13h10" stroke="#e01010" stroke-width="1" fill="none"/>
<line x1="119.8" y1="225.50" x2="119.8" y2="308.3" stroke="#555" stroke-width="0.9"/>
<line x1="119.8" y1="308.3" x2="198" y2="308.3" stroke="#555" stroke-width="0.9"/>
<line x1="117.2" y1="308.30" x2="119.8" y2="308.30" stroke="#555" stroke-width="0.9"/>
<text x="116.5" y="311.9" font-size="10" text-anchor="end" fill="#1a1a1a" >0</text>
<line x1="117.2" y1="287.60" x2="119.8" y2="287.60" stroke="#555" stroke-width="0.9"/>
<text x="116.5" y="291.2" font-size="10" text-anchor="end" fill="#1a1a1a" >1</text>
<line x1="117.2" y1="266.90" x2="119.8" y2="266.90" stroke="#555" stroke-width="0.9"/>
<text x="116.5" y="270.5" font-size="10" text-anchor="end" fill="#1a1a1a" >2</text>
<line x1="117.2" y1="246.20" x2="119.8" y2="246.20" stroke="#555" stroke-width="0.9"/>
<text x="116.5" y="249.8" font-size="10" text-anchor="end" fill="#1a1a1a" >3</text>
<line x1="117.2" y1="225.50" x2="119.8" y2="225.50" stroke="#555" stroke-width="0.9"/>
<text x="116.5" y="229.1" font-size="10" text-anchor="end" fill="#1a1a1a" >4</text>
<line x1="139.64999999999998" y1="308.3" x2="139.64999999999998" y2="310.8" stroke="#555" stroke-width="0.9"/>
<line x1="177.55" y1="308.3" x2="177.55" y2="310.8" stroke="#555" stroke-width="0.9"/>
<text x="139.6" y="321.1" font-size="9.2" text-anchor="middle" fill="#1a1a1a" >Control</text>
<text x="177.6" y="321.1" font-size="9.2" text-anchor="middle" fill="#1a1a1a" >HIC</text>
<path d="M139.2,232.5V228.0H177.7V232.5" stroke="#555" stroke-width="0.8" fill="none"/>
<text x="158.5" y="223.5" font-size="10" text-anchor="middle" fill="#1a1a1a" >ns</text>
<text x="271.6" y="203.4" font-size="11" text-anchor="middle" fill="#1a1a1a" >Chao</text>
<rect x="243.1" y="269.25" width="19.799999999999983" height="39.25" fill="#d4d4d4" stroke="#7a7a7a" stroke-width="0.8"/>
<rect x="281.1" y="272.18" width="19.799999999999955" height="36.32" fill="#ffc4c4" stroke="#e06060" stroke-width="0.8"/>
<circle cx="253.00" cy="237.53" r="2.5" fill="none" stroke="#4a4a4a" stroke-width="0.8"/><circle cx="253.00" cy="237.53" r="0.7" fill="#4a4a4a"/>
<circle cx="253.00" cy="251.30" r="2.5" fill="none" stroke="#4a4a4a" stroke-width="0.8"/><circle cx="253.00" cy="251.30" r="0.7" fill="#4a4a4a"/>
<circle cx="256.50" cy="255.06" r="2.5" fill="none" stroke="#4a4a4a" stroke-width="0.8"/><circle cx="256.50" cy="255.06" r="0.7" fill="#4a4a4a"/>
<circle cx="251.50" cy="256.31" r="2.5" fill="none" stroke="#4a4a4a" stroke-width="0.8"/><circle cx="251.50" cy="256.31" r="0.7" fill="#4a4a4a"/>
<circle cx="246.50" cy="257.56" r="2.5" fill="none" stroke="#4a4a4a" stroke-width="0.8"/><circle cx="246.50" cy="257.56" r="0.7" fill="#4a4a4a"/>
<circle cx="259.50" cy="259.24" r="2.5" fill="none" stroke="#4a4a4a" stroke-width="0.8"/><circle cx="259.50" cy="259.24" r="0.7" fill="#4a4a4a"/>
<circle cx="254.50" cy="260.49" r="2.5" fill="none" stroke="#4a4a4a" stroke-width="0.8"/><circle cx="254.50" cy="260.49" r="0.7" fill="#4a4a4a"/>
<circle cx="249.50" cy="261.74" r="2.5" fill="none" stroke="#4a4a4a" stroke-width="0.8"/><circle cx="249.50" cy="261.74" r="0.7" fill="#4a4a4a"/>
<circle cx="244.50" cy="262.57" r="2.5" fill="none" stroke="#4a4a4a" stroke-width="0.8"/><circle cx="244.50" cy="262.57" r="0.7" fill="#4a4a4a"/>
<circle cx="262.50" cy="263.41" r="2.5" fill="none" stroke="#4a4a4a" stroke-width="0.8"/><circle cx="262.50" cy="263.41" r="0.7" fill="#4a4a4a"/>
<circle cx="257.50" cy="264.66" r="2.5" fill="none" stroke="#4a4a4a" stroke-width="0.8"/><circle cx="257.50" cy="264.66" r="0.7" fill="#4a4a4a"/>
<circle cx="252.50" cy="265.92" r="2.5" fill="none" stroke="#4a4a4a" stroke-width="0.8"/><circle cx="252.50" cy="265.92" r="0.7" fill="#4a4a4a"/>
<circle cx="247.50" cy="266.75" r="2.5" fill="none" stroke="#4a4a4a" stroke-width="0.8"/><circle cx="247.50" cy="266.75" r="0.7" fill="#4a4a4a"/>
<circle cx="244.15" cy="267.58" r="2.5" fill="none" stroke="#4a4a4a" stroke-width="0.8"/><circle cx="244.15" cy="267.58" r="0.7" fill="#4a4a4a"/>
<circle cx="261.00" cy="268.42" r="2.5" fill="none" stroke="#4a4a4a" stroke-width="0.8"/><circle cx="261.00" cy="268.42" r="0.7" fill="#4a4a4a"/>
<circle cx="248.68" cy="269.25" r="2.5" fill="none" stroke="#4a4a4a" stroke-width="0.8"/><circle cx="248.68" cy="269.25" r="0.7" fill="#4a4a4a"/>
<circle cx="255.50" cy="270.09" r="2.5" fill="none" stroke="#4a4a4a" stroke-width="0.8"/><circle cx="255.50" cy="270.09" r="0.7" fill="#4a4a4a"/>
<circle cx="249.60" cy="270.93" r="2.5" fill="none" stroke="#4a4a4a" stroke-width="0.8"/><circle cx="249.60" cy="270.93" r="0.7" fill="#4a4a4a"/>
<circle cx="247.04" cy="271.76" r="2.5" fill="none" stroke="#4a4a4a" stroke-width="0.8"/><circle cx="247.04" cy="271.76" r="0.7" fill="#4a4a4a"/>
<circle cx="257.76" cy="272.60" r="2.5" fill="none" stroke="#4a4a4a" stroke-width="0.8"/><circle cx="257.76" cy="272.60" r="0.7" fill="#4a4a4a"/>
<circle cx="250.61" cy="273.43" r="2.5" fill="none" stroke="#4a4a4a" stroke-width="0.8"/><circle cx="250.61" cy="273.43" r="0.7" fill="#4a4a4a"/>
<circle cx="262.50" cy="274.26" r="2.5" fill="none" stroke="#4a4a4a" stroke-width="0.8"/><circle cx="262.50" cy="274.26" r="0.7" fill="#4a4a4a"/>
<circle cx="261.47" cy="275.10" r="2.5" fill="none" stroke="#4a4a4a" stroke-width="0.8"/><circle cx="261.47" cy="275.10" r="0.7" fill="#4a4a4a"/>
<circle cx="244.00" cy="275.94" r="2.5" fill="none" stroke="#4a4a4a" stroke-width="0.8"/><circle cx="244.00" cy="275.94" r="0.7" fill="#4a4a4a"/>
<circle cx="254.50" cy="276.77" r="2.5" fill="none" stroke="#4a4a4a" stroke-width="0.8"/><circle cx="254.50" cy="276.77" r="0.7" fill="#4a4a4a"/>
<circle cx="244.27" cy="277.61" r="2.5" fill="none" stroke="#4a4a4a" stroke-width="0.8"/><circle cx="244.27" cy="277.61" r="0.7" fill="#4a4a4a"/>
<circle cx="249.50" cy="278.44" r="2.5" fill="none" stroke="#4a4a4a" stroke-width="0.8"/><circle cx="249.50" cy="278.44" r="0.7" fill="#4a4a4a"/>
<circle cx="258.50" cy="280.11" r="2.5" fill="none" stroke="#4a4a4a" stroke-width="0.8"/><circle cx="258.50" cy="280.11" r="0.7" fill="#4a4a4a"/>
<circle cx="253.50" cy="281.78" r="2.5" fill="none" stroke="#4a4a4a" stroke-width="0.8"/><circle cx="253.50" cy="281.78" r="0.7" fill="#4a4a4a"/>
<circle cx="248.50" cy="283.45" r="2.5" fill="none" stroke="#4a4a4a" stroke-width="0.8"/><circle cx="248.50" cy="283.45" r="0.7" fill="#4a4a4a"/>
<circle cx="257.00" cy="285.54" r="2.5" fill="none" stroke="#4a4a4a" stroke-width="0.8"/><circle cx="257.00" cy="285.54" r="0.7" fill="#4a4a4a"/>
<circle cx="244.50" cy="286.79" r="2.5" fill="none" stroke="#4a4a4a" stroke-width="0.8"/><circle cx="244.50" cy="286.79" r="0.7" fill="#4a4a4a"/>
<rect x="288.70" y="247.75" width="4.6" height="4.6" fill="none" stroke="#ee1c1c" stroke-width="0.9"/><rect x="290.30" y="249.35" width="1.4" height="1.4" fill="#ee1c1c"/>
<rect x="283.70" y="248.58" width="4.6" height="4.6" fill="none" stroke="#ee1c1c" stroke-width="0.9"/><rect x="285.30" y="250.19" width="1.4" height="1.4" fill="#ee1c1c"/>
<rect x="288.70" y="256.94" width="4.6" height="4.6" fill="none" stroke="#ee1c1c" stroke-width="0.9"/><rect x="290.30" y="258.54" width="1.4" height="1.4" fill="#ee1c1c"/>
<rect x="284.20" y="259.44" width="4.6" height="4.6" fill="none" stroke="#ee1c1c" stroke-width="0.9"/><rect x="285.80" y="261.04" width="1.4" height="1.4" fill="#ee1c1c"/>
<rect x="291.70" y="261.11" width="4.6" height="4.6" fill="none" stroke="#ee1c1c" stroke-width="0.9"/><rect x="293.30" y="262.71" width="1.4" height="1.4" fill="#ee1c1c"/>
<rect x="296.70" y="261.94" width="4.6" height="4.6" fill="none" stroke="#ee1c1c" stroke-width="0.9"/><rect x="298.30" y="263.55" width="1.4" height="1.4" fill="#ee1c1c"/>
<rect x="280.20" y="262.78" width="4.6" height="4.6" fill="none" stroke="#ee1c1c" stroke-width="0.9"/><rect x="281.80" y="264.38" width="1.4" height="1.4" fill="#ee1c1c"/>
<rect x="287.20" y="263.62" width="4.6" height="4.6" fill="none" stroke="#ee1c1c" stroke-width="0.9"/><rect x="288.80" y="265.22" width="1.4" height="1.4" fill="#ee1c1c"/>
<rect x="282.08" y="264.45" width="4.6" height="4.6" fill="none" stroke="#ee1c1c" stroke-width="0.9"/><rect x="283.68" y="266.05" width="1.4" height="1.4" fill="#ee1c1c"/>
<rect x="280.05" y="265.28" width="4.6" height="4.6" fill="none" stroke="#ee1c1c" stroke-width="0.9"/><rect x="281.65" y="266.88" width="1.4" height="1.4" fill="#ee1c1c"/>
<rect x="291.70" y="266.12" width="4.6" height="4.6" fill="none" stroke="#ee1c1c" stroke-width="0.9"/><rect x="293.30" y="267.72" width="1.4" height="1.4" fill="#ee1c1c"/>
<rect x="294.86" y="266.54" width="4.6" height="4.6" fill="none" stroke="#ee1c1c" stroke-width="0.9"/><rect x="296.46" y="268.14" width="1.4" height="1.4" fill="#ee1c1c"/>
<rect x="297.04" y="266.95" width="4.6" height="4.6" fill="none" stroke="#ee1c1c" stroke-width="0.9"/><rect x="298.64" y="268.56" width="1.4" height="1.4" fill="#ee1c1c"/>
<rect x="284.26" y="267.79" width="4.6" height="4.6" fill="none" stroke="#ee1c1c" stroke-width="0.9"/><rect x="285.86" y="269.39" width="1.4" height="1.4" fill="#ee1c1c"/>
<rect x="282.56" y="268.62" width="4.6" height="4.6" fill="none" stroke="#ee1c1c" stroke-width="0.9"/><rect x="284.16" y="270.23" width="1.4" height="1.4" fill="#ee1c1c"/>
<rect x="282.44" y="269.46" width="4.6" height="4.6" fill="none" stroke="#ee1c1c" stroke-width="0.9"/><rect x="284.04" y="271.06" width="1.4" height="1.4" fill="#ee1c1c"/>
<rect x="288.70" y="270.30" width="4.6" height="4.6" fill="none" stroke="#ee1c1c" stroke-width="0.9"/><rect x="290.30" y="271.90" width="1.4" height="1.4" fill="#ee1c1c"/>
<rect x="290.29" y="270.71" width="4.6" height="4.6" fill="none" stroke="#ee1c1c" stroke-width="0.9"/><rect x="291.89" y="272.31" width="1.4" height="1.4" fill="#ee1c1c"/>
<rect x="287.51" y="271.13" width="4.6" height="4.6" fill="none" stroke="#ee1c1c" stroke-width="0.9"/><rect x="289.11" y="272.73" width="1.4" height="1.4" fill="#ee1c1c"/>
<rect x="295.20" y="271.96" width="4.6" height="4.6" fill="none" stroke="#ee1c1c" stroke-width="0.9"/><rect x="296.80" y="273.56" width="1.4" height="1.4" fill="#ee1c1c"/>
<rect x="298.13" y="272.80" width="4.6" height="4.6" fill="none" stroke="#ee1c1c" stroke-width="0.9"/><rect x="299.73" y="274.40" width="1.4" height="1.4" fill="#ee1c1c"/>
<rect x="279.70" y="273.63" width="4.6" height="4.6" fill="none" stroke="#ee1c1c" stroke-width="0.9"/><rect x="281.30" y="275.24" width="1.4" height="1.4" fill="#ee1c1c"/>
<rect x="296.64" y="274.47" width="4.6" height="4.6" fill="none" stroke="#ee1c1c" stroke-width="0.9"/><rect x="298.24" y="276.07" width="1.4" height="1.4" fill="#ee1c1c"/>
<rect x="284.70" y="275.31" width="4.6" height="4.6" fill="none" stroke="#ee1c1c" stroke-width="0.9"/><rect x="286.30" y="276.91" width="1.4" height="1.4" fill="#ee1c1c"/>
<rect x="289.70" y="276.14" width="4.6" height="4.6" fill="none" stroke="#ee1c1c" stroke-width="0.9"/><rect x="291.30" y="277.74" width="1.4" height="1.4" fill="#ee1c1c"/>
<rect x="292.99" y="276.97" width="4.6" height="4.6" fill="none" stroke="#ee1c1c" stroke-width="0.9"/><rect x="294.59" y="278.57" width="1.4" height="1.4" fill="#ee1c1c"/>
<rect x="280.70" y="278.64" width="4.6" height="4.6" fill="none" stroke="#ee1c1c" stroke-width="0.9"/><rect x="282.30" y="280.25" width="1.4" height="1.4" fill="#ee1c1c"/>
<rect x="286.70" y="280.31" width="4.6" height="4.6" fill="none" stroke="#ee1c1c" stroke-width="0.9"/><rect x="288.30" y="281.92" width="1.4" height="1.4" fill="#ee1c1c"/>
<rect x="291.70" y="281.99" width="4.6" height="4.6" fill="none" stroke="#ee1c1c" stroke-width="0.9"/><rect x="293.30" y="283.59" width="1.4" height="1.4" fill="#ee1c1c"/>
<rect x="287.70" y="285.32" width="4.6" height="4.6" fill="none" stroke="#ee1c1c" stroke-width="0.9"/><rect x="289.30" y="286.93" width="1.4" height="1.4" fill="#ee1c1c"/>
<rect x="292.20" y="287.41" width="4.6" height="4.6" fill="none" stroke="#ee1c1c" stroke-width="0.9"/><rect x="293.80" y="289.01" width="1.4" height="1.4" fill="#ee1c1c"/>
<rect x="288.70" y="291.59" width="4.6" height="4.6" fill="none" stroke="#ee1c1c" stroke-width="0.9"/><rect x="290.30" y="293.19" width="1.4" height="1.4" fill="#ee1c1c"/>
<path d="M253.0,279.27V259.24M248.0,259.24h10" stroke="#333" stroke-width="1" fill="none"/>
<path d="M291.0,281.36V263.41M286.0,263.41h10" stroke="#e01010" stroke-width="1" fill="none"/>
<line x1="232.7" y1="225.00" x2="232.7" y2="308.5" stroke="#555" stroke-width="0.9"/>
<line x1="232.7" y1="308.5" x2="311" y2="308.5" stroke="#555" stroke-width="0.9"/>
<line x1="230.1" y1="308.50" x2="232.7" y2="308.50" stroke="#555" stroke-width="0.9"/>
<text x="229.4" y="312.1" font-size="10" text-anchor="end" fill="#1a1a1a" >0</text>
<line x1="230.1" y1="287.62" x2="232.7" y2="287.62" stroke="#555" stroke-width="0.9"/>
<text x="229.4" y="291.2" font-size="10" text-anchor="end" fill="#1a1a1a" >50</text>
<line x1="230.1" y1="266.75" x2="232.7" y2="266.75" stroke="#555" stroke-width="0.9"/>
<text x="229.4" y="270.4" font-size="10" text-anchor="end" fill="#1a1a1a" >100</text>
<line x1="230.1" y1="245.88" x2="232.7" y2="245.88" stroke="#555" stroke-width="0.9"/>
<text x="229.4" y="249.5" font-size="10" text-anchor="end" fill="#1a1a1a" >150</text>
<line x1="230.1" y1="225.00" x2="232.7" y2="225.00" stroke="#555" stroke-width="0.9"/>
<text x="229.4" y="228.6" font-size="10" text-anchor="end" fill="#1a1a1a" >200</text>
<line x1="253.0" y1="308.5" x2="253.0" y2="311.0" stroke="#555" stroke-width="0.9"/>
<line x1="291.0" y1="308.5" x2="291.0" y2="311.0" stroke="#555" stroke-width="0.9"/>
<text x="253.0" y="321.1" font-size="9.2" text-anchor="middle" fill="#1a1a1a" >Control</text>
<text x="291.0" y="321.1" font-size="9.2" text-anchor="middle" fill="#1a1a1a" >HIC</text>
<path d="M252.7,231.8V227.6H291.2V245.6" stroke="#555" stroke-width="0.8" fill="none"/>
<text x="271.6" y="224.0" font-size="10" text-anchor="middle" fill="#1a1a1a" >ns</text>
<text x="382.0" y="203.4" font-size="11" text-anchor="middle" fill="#1a1a1a" >Ace</text>
<rect x="392" y="283.04" width="20" height="4.16" fill="#ffc4c4" stroke="#e06060" stroke-width="0.8"/>
<rect x="354" y="284.40" width="20" height="5.6" rx="2.6" fill="#2e2e2e"/>
<rect x="392" y="284.40" width="20" height="5.2" rx="1.2" fill="#ee1c1c"/>
<circle cx="364.00" cy="235.20" r="2.5" fill="none" stroke="#4a4a4a" stroke-width="0.8"/><circle cx="364.00" cy="235.20" r="0.7" fill="#4a4a4a"/>
<circle cx="364.00" cy="254.75" r="2.5" fill="none" stroke="#4a4a4a" stroke-width="0.8"/><circle cx="364.00" cy="254.75" r="0.7" fill="#4a4a4a"/>
<rect x="399.70" y="228.74" width="4.6" height="4.6" fill="none" stroke="#ee1c1c" stroke-width="0.9"/><rect x="401.30" y="230.34" width="1.4" height="1.4" fill="#ee1c1c"/>
<rect x="399.70" y="245.38" width="4.6" height="4.6" fill="none" stroke="#ee1c1c" stroke-width="0.9"/><rect x="401.30" y="246.98" width="1.4" height="1.4" fill="#ee1c1c"/>
<rect x="399.70" y="246.21" width="4.6" height="4.6" fill="none" stroke="#ee1c1c" stroke-width="0.9"/><rect x="401.30" y="247.81" width="1.4" height="1.4" fill="#ee1c1c"/>
<rect x="399.70" y="254.95" width="4.6" height="4.6" fill="none" stroke="#ee1c1c" stroke-width="0.9"/><rect x="401.30" y="256.55" width="1.4" height="1.4" fill="#ee1c1c"/>
<path d="M364.0,295.52V273.47M358.5,273.47h11M358.5,295.52h11" stroke="#444" stroke-width="1" fill="none"/>
<path d="M402.0,296.35V267.23M396.5,267.23h11M396.5,296.35h11" stroke="#e01010" stroke-width="1" fill="none"/>
<line x1="343.6" y1="224.80" x2="343.6" y2="308.0" stroke="#555" stroke-width="0.9"/>
<line x1="343.6" y1="308.0" x2="422" y2="308.0" stroke="#555" stroke-width="0.9"/>
<line x1="343.6" y1="287.20" x2="422" y2="287.20" stroke="#555" stroke-width="0.9"/>
<line x1="341.0" y1="308.00" x2="343.6" y2="308.00" stroke="#555" stroke-width="0.9"/>
<text x="340.3" y="311.6" font-size="10" text-anchor="end" fill="#1a1a1a" >-50</text>
<line x1="341.0" y1="287.20" x2="343.6" y2="287.20" stroke="#555" stroke-width="0.9"/>
<text x="340.3" y="290.8" font-size="10" text-anchor="end" fill="#1a1a1a" >0</text>
<line x1="341.0" y1="266.40" x2="343.6" y2="266.40" stroke="#555" stroke-width="0.9"/>
<text x="340.3" y="270.0" font-size="10" text-anchor="end" fill="#1a1a1a" >50</text>
<line x1="341.0" y1="245.60" x2="343.6" y2="245.60" stroke="#555" stroke-width="0.9"/>
<text x="340.3" y="249.2" font-size="10" text-anchor="end" fill="#1a1a1a" >100</text>
<line x1="341.0" y1="224.80" x2="343.6" y2="224.80" stroke="#555" stroke-width="0.9"/>
<text x="340.3" y="228.4" font-size="10" text-anchor="end" fill="#1a1a1a" >150</text>
<line x1="364.0" y1="308.0" x2="364.0" y2="310.5" stroke="#555" stroke-width="0.9"/>
<line x1="402.0" y1="308.0" x2="402.0" y2="310.5" stroke="#555" stroke-width="0.9"/>
<text x="364.0" y="320.4" font-size="9.2" text-anchor="middle" fill="#1a1a1a" >Control</text>
<text x="402.0" y="320.4" font-size="9.2" text-anchor="middle" fill="#1a1a1a" >HIC</text>
<path d="M363.6,229V220.4H402.3V224.4" stroke="#555" stroke-width="0.8" fill="none"/>
<text x="382.5" y="217.4" font-size="10" text-anchor="middle" fill="#1a1a1a" >ns</text>
<text x="445.2" y="204.8" font-size="11.8" text-anchor="middle" fill="#1a1a1a" >D</text>
<text x="459.0" y="203.8" font-size="11.2" text-anchor="start" fill="#1a1a1a" >PCoA on species level, R=0.0589, P=0.017</text>
<line x1="566.4" y1="215.0" x2="566.4" y2="314.2" stroke="#aaa" stroke-width="0.7" stroke-dasharray="1.5,1.5"/>
<line x1="487.5" y1="271.9" x2="621.2" y2="271.9" stroke="#aaa" stroke-width="0.7" stroke-dasharray="1.5,1.5"/>
<rect x="487.5" y="215.0" width="133.7" height="99.2" fill="none" stroke="#a0a0a0" stroke-width="0.8"/>
<line x1="485.5" y1="214.8" x2="487.5" y2="214.8" stroke="#888" stroke-width="0.7"/>
<text x="484.5" y="217.7" font-size="8.2" text-anchor="end" fill="#333" >0.6</text>
<line x1="485.5" y1="233.8" x2="487.5" y2="233.8" stroke="#888" stroke-width="0.7"/>
<text x="484.5" y="236.7" font-size="8.2" text-anchor="end" fill="#333" >0.4</text>
<line x1="485.5" y1="252.9" x2="487.5" y2="252.9" stroke="#888" stroke-width="0.7"/>
<text x="484.5" y="255.8" font-size="8.2" text-anchor="end" fill="#333" >0.2</text>
<line x1="485.5" y1="271.9" x2="487.5" y2="271.9" stroke="#888" stroke-width="0.7"/>
<text x="484.5" y="274.8" font-size="8.2" text-anchor="end" fill="#333" >0</text>
<line x1="485.5" y1="290.9" x2="487.5" y2="290.9" stroke="#888" stroke-width="0.7"/>
<text x="484.5" y="293.8" font-size="8.2" text-anchor="end" fill="#333" >-0.2</text>
<line x1="485.5" y1="310.0" x2="487.5" y2="310.0" stroke="#888" stroke-width="0.7"/>
<text x="484.5" y="312.9" font-size="8.2" text-anchor="end" fill="#333" >-0.4</text>
<line x1="491.6" y1="314.2" x2="491.6" y2="316.2" stroke="#888" stroke-width="0.7"/>
<text x="491.6" y="325.2" font-size="8.2" text-anchor="middle" fill="#333" >-0.6</text>
<line x1="516.6" y1="314.2" x2="516.6" y2="316.2" stroke="#888" stroke-width="0.7"/>
<text x="516.6" y="325.2" font-size="8.2" text-anchor="middle" fill="#333" >-0.4</text>
<line x1="541.5" y1="314.2" x2="541.5" y2="316.2" stroke="#888" stroke-width="0.7"/>
<text x="541.5" y="325.2" font-size="8.2" text-anchor="middle" fill="#333" >-0.2</text>
<line x1="566.4" y1="314.2" x2="566.4" y2="316.2" stroke="#888" stroke-width="0.7"/>
<text x="566.4" y="325.2" font-size="8.2" text-anchor="middle" fill="#333" >0</text>
<line x1="591.3" y1="314.2" x2="591.3" y2="316.2" stroke="#888" stroke-width="0.7"/>
<text x="591.3" y="325.2" font-size="8.2" text-anchor="middle" fill="#333" >0.2</text>
<line x1="616.2" y1="314.2" x2="616.2" y2="316.2" stroke="#888" stroke-width="0.7"/>
<text x="616.2" y="325.2" font-size="8.2" text-anchor="middle" fill="#333" >0.4</text>
<text x="556.0" y="334.8" font-size="8.6" text-anchor="middle" fill="#333" >PC1(12.56%)</text>
<text x="0.0" y="0.0" font-size="8.6" text-anchor="middle" fill="#333" transform="translate(466.6,263.5) rotate(-90)">PC2(11.66%)</text>
<circle cx="557.56" cy="237.66" r="1.95" fill="#555a5e"/>
<circle cx="556.18" cy="243.18" r="1.95" fill="#555a5e"/>
<circle cx="562.88" cy="243.18" r="1.95" fill="#555a5e"/>
<circle cx="577.66" cy="241.21" r="1.95" fill="#555a5e"/>
<circle cx="578.64" cy="242.00" r="1.95" fill="#555a5e"/>
<circle cx="576.67" cy="250.08" r="1.95" fill="#555a5e"/>
<circle cx="567.41" cy="254.22" r="1.95" fill="#555a5e"/>
<circle cx="587.32" cy="254.22" r="1.95" fill="#555a5e"/>
<circle cx="595.00" cy="258.16" r="1.95" fill="#555a5e"/>
<circle cx="598.15" cy="257.37" r="1.95" fill="#555a5e"/>
<circle cx="575.88" cy="261.12" r="1.95" fill="#555a5e"/>
<circle cx="585.15" cy="263.88" r="1.95" fill="#555a5e"/>
<circle cx="589.29" cy="264.66" r="1.95" fill="#555a5e"/>
<circle cx="591.26" cy="265.26" r="1.95" fill="#555a5e"/>
<circle cx="604.66" cy="268.21" r="1.95" fill="#555a5e"/>
<circle cx="562.68" cy="269.79" r="1.95" fill="#555a5e"/>
<circle cx="571.35" cy="272.75" r="1.95" fill="#555a5e"/>
<circle cx="584.95" cy="269.79" r="1.95" fill="#555a5e"/>
<circle cx="588.50" cy="274.52" r="1.95" fill="#555a5e"/>
<circle cx="587.71" cy="278.07" r="1.95" fill="#555a5e"/>
<circle cx="596.58" cy="277.87" r="1.95" fill="#555a5e"/>
<circle cx="580.61" cy="279.64" r="1.95" fill="#555a5e"/>
<circle cx="588.30" cy="283.19" r="1.95" fill="#555a5e"/>
<circle cx="566.42" cy="286.74" r="1.95" fill="#555a5e"/>
<circle cx="567.41" cy="290.68" r="1.95" fill="#555a5e"/>
<circle cx="583.96" cy="288.31" r="1.95" fill="#555a5e"/>
<circle cx="576.87" cy="293.24" r="1.95" fill="#555a5e"/>
<circle cx="595.59" cy="293.04" r="1.95" fill="#555a5e"/>
<circle cx="563.86" cy="300.34" r="1.95" fill="#555a5e"/>
<circle cx="564.85" cy="302.11" r="1.95" fill="#555a5e"/>
<path d="M510.26,244.72L512.76,249.02H507.76Z" fill="#dd0000"/>
<path d="M526.42,246.30L528.92,250.60H523.92Z" fill="#dd0000"/>
<path d="M548.29,250.64L550.79,254.94H545.79Z" fill="#dd0000"/>
<path d="M535.48,253.59L537.98,257.89H532.98Z" fill="#dd0000"/>
<path d="M554.01,256.35L556.51,260.65H551.51Z" fill="#dd0000"/>
<path d="M521.69,257.53L524.19,261.83H519.19Z" fill="#dd0000"/>
<path d="M544.35,260.29L546.85,264.59H541.85Z" fill="#dd0000"/>
<path d="M502.37,261.87L504.87,266.17H499.87Z" fill="#dd0000"/>
<path d="M531.34,264.43L533.84,268.73H528.84Z" fill="#dd0000"/>
<path d="M563.47,266.99L565.97,271.29H560.97Z" fill="#dd0000"/>
<path d="M567.80,270.15L570.30,274.45H565.30Z" fill="#dd0000"/>
<path d="M581.99,269.75L584.49,274.05H579.49Z" fill="#dd0000"/>
<path d="M600.32,265.81L602.82,270.11H597.82Z" fill="#dd0000"/>
<path d="M603.67,266.40L606.17,270.70H601.17Z" fill="#dd0000"/>
<path d="M601.70,268.77L604.20,273.07H599.20Z" fill="#dd0000"/>
<path d="M522.87,276.26L525.37,280.56H520.37Z" fill="#dd0000"/>
<path d="M552.04,277.24L554.54,281.54H549.54Z" fill="#dd0000"/>
<path d="M536.27,279.81L538.77,284.11H533.77Z" fill="#dd0000"/>
<path d="M568.00,278.62L570.50,282.92H565.50Z" fill="#dd0000"/>
<path d="M580.61,275.27L583.11,279.57H578.11Z" fill="#dd0000"/>
<path d="M585.34,278.03L587.84,282.33H582.84Z" fill="#dd0000"/>
<path d="M578.25,280.99L580.75,285.29H575.75Z" fill="#dd0000"/>
<path d="M588.89,283.55L591.39,287.85H586.39Z" fill="#dd0000"/>
<path d="M571.75,283.55L574.25,287.85H569.25Z" fill="#dd0000"/>
<path d="M520.90,287.10L523.40,291.40H518.40Z" fill="#dd0000"/>
<path d="M526.02,289.46L528.52,293.76H523.52Z" fill="#dd0000"/>
<path d="M519.91,291.04L522.41,295.34H517.41Z" fill="#dd0000"/>
<path d="M526.42,295.77L528.92,300.07H523.92Z" fill="#dd0000"/>
<path d="M546.52,293.80L549.02,298.10H544.02Z" fill="#dd0000"/>
<path d="M556.18,291.43L558.68,295.73H553.68Z" fill="#dd0000"/>
<circle cx="628" cy="260.6" r="4.1" fill="#555a5e"/>
<text x="636.0" y="264.6" font-size="11" text-anchor="start" fill="#1a1a1a" >Control</text>
<path d="M629,271.3L633.6,279.3H624.4Z" fill="#dd0000"/>
<text x="636.0" y="279.5" font-size="11" text-anchor="start" fill="#1a1a1a" >HIC</text>
<text x="0.8" y="355.1" font-size="11.8" text-anchor="start" fill="#1a1a1a" >E</text>
<text x="92.0" y="354.2" font-size="11" text-anchor="start" fill="#1a1a1a" >LEfSe analysis on species level</text>
<line x1="154.8" y1="400" x2="154.8" y2="539.4" stroke="#c8c8c8" stroke-width="0.6" stroke-dasharray="1.2,1.2"/>
<line x1="140.0" y1="400" x2="140.0" y2="539.4" stroke="#c8c8c8" stroke-width="0.6" stroke-dasharray="1.2,1.2"/>
<line x1="125.2" y1="400" x2="125.2" y2="539.4" stroke="#c8c8c8" stroke-width="0.6" stroke-dasharray="1.2,1.2"/>
<line x1="110.5" y1="400" x2="110.5" y2="539.4" stroke="#c8c8c8" stroke-width="0.6" stroke-dasharray="1.2,1.2"/>
<line x1="184.2" y1="360" x2="184.2" y2="400" stroke="#c8c8c8" stroke-width="0.6" stroke-dasharray="1.2,1.2"/>
<line x1="199.0" y1="360" x2="199.0" y2="400" stroke="#c8c8c8" stroke-width="0.6" stroke-dasharray="1.2,1.2"/>
<line x1="213.8" y1="360" x2="213.8" y2="400" stroke="#c8c8c8" stroke-width="0.6" stroke-dasharray="1.2,1.2"/>
<line x1="169.5" y1="368.2" x2="207.8" y2="368.2" stroke="#f05050" stroke-width="0.9"/>
<circle cx="207.8" cy="368.2" r="3.6" fill="#ff0000"/>
<text x="164.2" y="372.4" font-size="10" text-anchor="end" fill="#1a1a1a" >s__Enterococcus_avium</text>
<line x1="169.5" y1="380.8" x2="203.8" y2="380.8" stroke="#f05050" stroke-width="0.9"/>
<circle cx="203.8" cy="380.8" r="3.6" fill="#ff0000"/>
<text x="164.2" y="385.0" font-size="10" text-anchor="end" fill="#1a1a1a" >s__Megasphaera_micronuciformis</text>
<line x1="169.5" y1="393.4" x2="202.6" y2="393.4" stroke="#f05050" stroke-width="0.9"/>
<circle cx="202.6" cy="393.4" r="3.6" fill="#ff0000"/>
<text x="164.2" y="397.6" font-size="10" text-anchor="end" fill="#1a1a1a" >s__Fusobacterium_nucleatum</text>
<line x1="169.5" y1="407.7" x2="104.8" y2="407.7" stroke="#8a8a8a" stroke-width="1.1"/>
<circle cx="104.8" cy="407.7" r="4.2" fill="#555555"/>
<text x="179.0" y="411.3" font-size="10" text-anchor="start" fill="#1a1a1a" >s__Anaerostipes_hadrus</text>
<line x1="169.5" y1="420.5" x2="115.5" y2="420.5" stroke="#8a8a8a" stroke-width="1.1"/>
<circle cx="115.5" cy="420.5" r="4.2" fill="#555555"/>
<text x="179.0" y="424.1" font-size="10" text-anchor="start" fill="#1a1a1a" >s__Collinsella_aerofaciens</text>
<line x1="169.5" y1="432.9" x2="116.7" y2="432.9" stroke="#8a8a8a" stroke-width="1.1"/>
<circle cx="116.7" cy="432.9" r="4.2" fill="#555555"/>
<text x="179.0" y="436.5" font-size="10" text-anchor="start" fill="#1a1a1a" >s__Roseburia_inulinivorans</text>
<line x1="169.5" y1="445.3" x2="117.4" y2="445.3" stroke="#8a8a8a" stroke-width="1.1"/>
<circle cx="117.4" cy="445.3" r="4.2" fill="#555555"/>
<text x="179.0" y="448.9" font-size="10" text-anchor="start" fill="#1a1a1a" >s__Roseburia_hominis</text>
<line x1="169.5" y1="457.9" x2="119.2" y2="457.9" stroke="#8a8a8a" stroke-width="1.1"/>
<circle cx="119.2" cy="457.9" r="4.2" fill="#555555"/>
<text x="179.0" y="461.5" font-size="10" text-anchor="start" fill="#1a1a1a" >s__Coprococcus_comes</text>
<line x1="169.5" y1="469.8" x2="119.2" y2="469.8" stroke="#8a8a8a" stroke-width="1.1"/>
<circle cx="119.2" cy="469.8" r="4.2" fill="#555555"/>
<text x="179.0" y="473.4" font-size="10" text-anchor="start" fill="#1a1a1a" >s__Agathobaculum_butyriciproducens</text>
<line x1="169.5" y1="482.4" x2="119.0" y2="482.4" stroke="#8a8a8a" stroke-width="1.1"/>
<circle cx="119.0" cy="482.4" r="4.2" fill="#555555"/>
<text x="179.0" y="486.0" font-size="10" text-anchor="start" fill="#1a1a1a" >s__Adlercreutzia_equolifaciens</text>
<line x1="169.5" y1="495.0" x2="119.7" y2="495.0" stroke="#8a8a8a" stroke-width="1.1"/>
<circle cx="119.7" cy="495.0" r="4.2" fill="#555555"/>
<text x="179.0" y="498.6" font-size="10" text-anchor="start" fill="#1a1a1a" >s__Blautia_obeum</text>
<line x1="169.5" y1="507.9" x2="130.2" y2="507.9" stroke="#8a8a8a" stroke-width="1.1"/>
<circle cx="130.2" cy="507.9" r="4.2" fill="#555555"/>
<text x="179.0" y="511.5" font-size="10" text-anchor="start" fill="#1a1a1a" >s__Asaccharobacter_celatus</text>
<line x1="169.5" y1="520.3" x2="132.6" y2="520.3" stroke="#8a8a8a" stroke-width="1.1"/>
<circle cx="132.6" cy="520.3" r="4.2" fill="#555555"/>
<text x="179.0" y="523.9" font-size="10" text-anchor="start" fill="#1a1a1a" >s__Alistipes_shahii</text>
<line x1="169.5" y1="533.1" x2="133.3" y2="533.1" stroke="#8a8a8a" stroke-width="1.1"/>
<circle cx="133.3" cy="533.1" r="4.2" fill="#555555"/>
<text x="179.0" y="536.7" font-size="10" text-anchor="start" fill="#1a1a1a" >s__Coprococcus_catus</text>
<line x1="169.5" y1="359.8" x2="169.5" y2="539.4" stroke="#555" stroke-width="1.3"/>
<text x="110.4" y="549.1" font-size="8.8" text-anchor="middle" fill="#333" >4</text>
<text x="124.8" y="549.1" font-size="8.8" text-anchor="middle" fill="#333" >3</text>
<text x="139.1" y="549.1" font-size="8.8" text-anchor="middle" fill="#333" >2</text>
<text x="154.0" y="549.1" font-size="8.8" text-anchor="middle" fill="#333" >1</text>
<text x="169.2" y="549.1" font-size="8.8" text-anchor="middle" fill="#333" >0</text>
<text x="183.2" y="549.1" font-size="8.8" text-anchor="middle" fill="#333" >1</text>
<text x="199.1" y="549.1" font-size="8.8" text-anchor="middle" fill="#333" >2</text>
<text x="213.6" y="549.1" font-size="8.8" text-anchor="middle" fill="#333" >3</text>
<circle cx="27.6" cy="427.5" r="4.5" fill="#555555"/>
<text x="38.6" y="431.1" font-size="10" text-anchor="start" fill="#1a1a1a" >Control</text>
<circle cx="27.6" cy="440.4" r="4.5" fill="#ff0000"/>
<text x="38.6" y="444.0" font-size="10" text-anchor="start" fill="#1a1a1a" >HIC</text>
<text x="351.4" y="354.3" font-size="11.8" text-anchor="middle" fill="#1a1a1a" >F</text>
<text x="365.2" y="354.0" font-size="11.15" text-anchor="start" fill="#1a1a1a" >Functional analysis of microorganisms in the HIC (species level)</text>
<defs><linearGradient id="cb" x1="0" y1="0" x2="0" y2="1"><stop offset="0" stop-color="#a8124e"/><stop offset="0.25" stop-color="#d4789f"/><stop offset="0.5" stop-color="#ffffff"/><stop offset="0.75" stop-color="#a9b2e2"/><stop offset="1" stop-color="#6474c8"/></linearGradient></defs>
<rect x="394.4" y="384.4" width="10.1" height="49.6" fill="url(#cb)"/>
<line x1="394.4" y1="384.4" x2="396.4" y2="384.4" stroke="#fff" stroke-width="0.6"/>
<line x1="402.5" y1="384.4" x2="404.5" y2="384.4" stroke="#fff" stroke-width="0.6"/>
<text x="406.3" y="389.7" font-size="8.4" text-anchor="start" fill="#222" >4</text>
<line x1="394.4" y1="396.8" x2="396.4" y2="396.8" stroke="#fff" stroke-width="0.6"/>
<line x1="402.5" y1="396.8" x2="404.5" y2="396.8" stroke="#fff" stroke-width="0.6"/>
<text x="406.3" y="400.7" font-size="8.4" text-anchor="start" fill="#222" >2</text>
<text x="406.3" y="412.8" font-size="8.4" text-anchor="start" fill="#222" >0</text>
<line x1="394.4" y1="421.6" x2="396.4" y2="421.6" stroke="#fff" stroke-width="0.6"/>
<line x1="402.5" y1="421.6" x2="404.5" y2="421.6" stroke="#fff" stroke-width="0.6"/>
<text x="406.3" y="424.6" font-size="8.4" text-anchor="start" fill="#222" >-2</text>
<line x1="394.4" y1="434.0" x2="396.4" y2="434.0" stroke="#fff" stroke-width="0.6"/>
<line x1="402.5" y1="434.0" x2="404.5" y2="434.0" stroke="#fff" stroke-width="0.6"/>
<text x="406.3" y="435.8" font-size="8.4" text-anchor="start" fill="#222" >-4</text>
<text x="400.4" y="446.1" font-size="7.5" text-anchor="middle" fill="#222" font-style="italic">NES</text>
<rect x="422.2" y="384.40" width="14.5" height="16.69" fill="#8c99d6"/>
<rect x="436.6" y="384.40" width="14.5" height="16.69" fill="#ad1250"/>
<text x="453.4" y="396.0" font-size="9.5" text-anchor="start" fill="#1a1a1a" >Bile secretion</text>
<rect x="422.2" y="400.79" width="14.5" height="16.69" fill="#c9cdea"/>
<rect x="436.6" y="400.79" width="14.5" height="16.69" fill="#cc5b89"/>
<text x="453.4" y="412.4" font-size="9.5" text-anchor="start" fill="#1a1a1a" >Cholesterol metabolism</text>
<rect x="422.2" y="417.17" width="14.5" height="16.69" fill="#7987d2"/>
<rect x="436.6" y="417.17" width="14.5" height="16.69" fill="#d98aaf"/>
<text x="453.4" y="428.8" font-size="9.5" text-anchor="start" fill="#1a1a1a" >Primary bile acid biosynthesis</text>
<rect x="422.2" y="433.56" width="14.5" height="16.69" fill="#b5bde4"/>
<rect x="436.6" y="433.56" width="14.5" height="16.69" fill="#f0d1df"/>
<text x="453.4" y="445.2" font-size="9.5" text-anchor="start" fill="#1a1a1a" >Biotin metabolism</text>
<rect x="422.2" y="449.95" width="14.5" height="16.69" fill="#707fcd"/>
<rect x="436.6" y="449.95" width="14.5" height="16.69" fill="#c33a70"/>
<text x="453.4" y="461.5" font-size="9.5" text-anchor="start" fill="#1a1a1a" >Secondary bile acid biosynthesis</text>
<rect x="422.2" y="466.34" width="14.5" height="16.69" fill="#d3d7ee"/>
<rect x="436.6" y="466.34" width="14.5" height="16.69" fill="#eecbdb"/>
<text x="453.4" y="477.9" font-size="9.5" text-anchor="start" fill="#1a1a1a" textLength="145.8" lengthAdjust="spacingAndGlyphs">Pantothenate and CoA biosynthesis</text>
<rect x="422.2" y="482.73" width="14.5" height="16.69" fill="#e7e9f5"/>
<rect x="436.6" y="482.73" width="14.5" height="16.69" fill="#edc9da"/>
<text x="453.4" y="494.3" font-size="9.5" text-anchor="start" fill="#1a1a1a" >Insulin resistance</text>
<rect x="422.2" y="499.11" width="14.5" height="16.69" fill="#d9ddf1"/>
<rect x="436.6" y="499.11" width="14.5" height="16.69" fill="#f4dce7"/>
<text x="453.4" y="510.7" font-size="9.5" text-anchor="start" fill="#1a1a1a" textLength="105.5" lengthAdjust="spacingAndGlyphs">One carbon pool by folate</text>
<text x="0.0" y="0.0" font-size="10.2" text-anchor="end" fill="#1a1a1a" transform="translate(433.2,517.5) rotate(-90)">Control</text>
<text x="0.0" y="0.0" font-size="10.2" text-anchor="end" fill="#1a1a1a" transform="translate(447.6,517.5) rotate(-90)">HIC</text>
<line x1="516" y1="392.8" x2="607.2" y2="392.8" stroke="#e080c4" stroke-width="0.9"/>
<line x1="556.4" y1="409.2" x2="607.2" y2="409.2" stroke="#e080c4" stroke-width="0.9"/>
<line x1="582.7" y1="425.4" x2="607.2" y2="425.4" stroke="#e080c4" stroke-width="0.9"/>
<line x1="593.9" y1="458.6" x2="607.2" y2="458.6" stroke="#e080c4" stroke-width="0.9"/>
<line x1="607.2" y1="392.8" x2="607.2" y2="458.6" stroke="#e080c4" stroke-width="0.9"/>
<text x="612.5" y="424.7" font-size="11" text-anchor="start" fill="#1a1a1a" >Bile acid (BA)</text>
<text x="612.5" y="438.0" font-size="11" text-anchor="start" fill="#1a1a1a" >metabolism</text>
<text x="0.8" y="575.2" font-size="11.8" text-anchor="start" fill="#1a1a1a" >G</text>
<text x="37.3" y="574.9" font-size="11.05" text-anchor="start" fill="#1a1a1a" >Bile acid metabolic shifts driven by differential microbial species</text>
<circle cx="46" cy="597.3" r="11.8" fill="#e2e2e2"/>
<circle cx="30.7" cy="649.9" r="11.8" fill="#e2e2e2"/>
<circle cx="166.5" cy="597.3" r="12.8" fill="#e2e2e2"/>
<circle cx="153" cy="644.5" r="15" fill="#e2e2e2"/>
<circle cx="243.5" cy="594.1" r="10.6" fill="#e2e2e2"/>
<circle cx="280.5" cy="633.3" r="14.2" fill="#e2e2e2"/>
<circle cx="372" cy="669.4" r="10.5" fill="#e2e2e2"/>
<circle cx="294.3" cy="698.2" r="16" fill="#e2e2e2"/>
<circle cx="361.4" cy="699" r="11.7" fill="#e2e2e2"/>
<circle cx="352.6" cy="762" r="9.7" fill="#e2e2e2"/>
<circle cx="29.4" cy="724.3" r="16.8" fill="#e2e2e2"/>
<circle cx="25.6" cy="763.6" r="10.5" fill="#e2e2e2"/>
<circle cx="159.4" cy="773.4" r="15.8" fill="#e2e2e2"/>
<circle cx="48.3" cy="688.8" r="10.3" fill="#da8ec8"/>
<circle cx="98.2" cy="700" r="11.8" fill="#da8ec8"/>
<circle cx="155.3" cy="685.1" r="15.3" fill="#da8ec8"/>
<circle cx="205.1" cy="693.6" r="15.2" fill="#da8ec8"/>
<circle cx="243" cy="682.4" r="9.2" fill="#da8ec8"/>
<circle cx="88.8" cy="634.4" r="26.3" fill="#9dbae2"/>
<circle cx="216.2" cy="632.6" r="23.1" fill="#9dbae2"/>
<circle cx="90.4" cy="748.9" r="22.8" fill="#9dbae2"/>
<circle cx="223.4" cy="743.3" r="18" fill="#9dbae2"/>
<circle cx="325.4" cy="651.1" r="13" fill="#9c9ccf"/>
<circle cx="340.1" cy="735.1" r="12.5" fill="#a6d8a2"/>
<line x1="56.2" y1="604.7" x2="70.9" y2="615.2" stroke="#1a1a1a" stroke-width="1.2" stroke-linecap="round"/>
<line x1="32.8" y1="638.3" x2="70.9" y2="615.2" stroke="#1a1a1a" stroke-width="1.53" stroke-linecap="round"/>
<line x1="112.8" y1="622.5" x2="152.3" y2="628.8" stroke="#1a1a1a" stroke-width="0.85" stroke-linecap="round"/>
<line x1="152.3" y1="628.8" x2="200.2" y2="617.5" stroke="#1a1a1a" stroke-width="1.7" stroke-linecap="round"/>
<line x1="179.6" y1="602.1" x2="200.2" y2="617.5" stroke="#1a1a1a" stroke-width="1.2" stroke-linecap="round"/>
<line x1="239.7" y1="604.7" x2="221.4" y2="611.7" stroke="#1a1a1a" stroke-width="0.85" stroke-linecap="round"/>
<line x1="295.2" y1="639" x2="313.5" y2="645.5" stroke="#1a1a1a" stroke-width="0.85" stroke-linecap="round"/>
<line x1="97.2" y1="659.2" x2="152.6" y2="670.2" stroke="#1a1a1a" stroke-width="1.7" stroke-linecap="round"/>
<line x1="152.6" y1="670.2" x2="210.8" y2="654.6" stroke="#1a1a1a" stroke-width="0.85" stroke-linecap="round"/>
<line x1="107.1" y1="691.5" x2="210.8" y2="654.6" stroke="#1a1a1a" stroke-width="1.2" stroke-linecap="round"/>
<line x1="110" y1="690.5" x2="210.8" y2="654.6" stroke="#1a1a1a" stroke-width="0.85" stroke-linecap="round"/>
<line x1="97.2" y1="659.2" x2="91" y2="690.5" stroke="#1a1a1a" stroke-width="0.85" stroke-linecap="round"/>
<line x1="97.2" y1="659.2" x2="49.5" y2="679.2" stroke="#1a1a1a" stroke-width="0.85" stroke-linecap="round"/>
<line x1="210.8" y1="654.6" x2="203.5" y2="679.2" stroke="#1a1a1a" stroke-width="1.7" stroke-linecap="round"/>
<line x1="210.8" y1="654.6" x2="238.8" y2="674.1" stroke="#1a1a1a" stroke-width="1.7" stroke-linecap="round"/>
<line x1="210.8" y1="654.6" x2="294.3" y2="681" stroke="#1a1a1a" stroke-width="0.85" stroke-linecap="round"/>
<line x1="294.3" y1="681" x2="312.3" y2="646.4" stroke="#1a1a1a" stroke-width="1.53" stroke-linecap="round"/>
<line x1="294.3" y1="681" x2="214.3" y2="728.6" stroke="#1a1a1a" stroke-width="0.85" stroke-linecap="round"/>
<line x1="245.8" y1="690.7" x2="214.3" y2="728.6" stroke="#1a1a1a" stroke-width="0.85" stroke-linecap="round"/>
<line x1="157.1" y1="699.9" x2="214.3" y2="728.6" stroke="#1a1a1a" stroke-width="1.7" stroke-linecap="round"/>
<line x1="207.3" y1="708" x2="214.3" y2="728.6" stroke="#1a1a1a" stroke-width="1.2" stroke-linecap="round"/>
<line x1="105.7" y1="708" x2="214.3" y2="728.6" stroke="#1a1a1a" stroke-width="0.85" stroke-linecap="round"/>
<line x1="96.8" y1="726.8" x2="103.4" y2="711.6" stroke="#1a1a1a" stroke-width="1.7" stroke-linecap="round"/>
<line x1="96.8" y1="726.8" x2="157" y2="699" stroke="#1a1a1a" stroke-width="0.85" stroke-linecap="round"/>
<line x1="96.8" y1="726.8" x2="203.8" y2="708" stroke="#1a1a1a" stroke-width="0.85" stroke-linecap="round"/>
<line x1="47.3" y1="697" x2="96.8" y2="726.8" stroke="#1a1a1a" stroke-width="1.7" stroke-linecap="round"/>
<line x1="44.8" y1="732.7" x2="67.3" y2="741.9" stroke="#1a1a1a" stroke-width="1.2" stroke-linecap="round"/>
<line x1="33.3" y1="755.9" x2="67.3" y2="743.3" stroke="#1a1a1a" stroke-width="0.85" stroke-linecap="round"/>
<line x1="103.4" y1="767.1" x2="159.4" y2="757.3" stroke="#1a1a1a" stroke-width="1.7" stroke-linecap="round"/>
<line x1="159.4" y1="757.3" x2="220" y2="760" stroke="#1a1a1a" stroke-width="0.85" stroke-linecap="round"/>
<line x1="300.4" y1="713.8" x2="328.2" y2="731.5" stroke="#1a1a1a" stroke-width="1.7" stroke-linecap="round"/>
<line x1="355.9" y1="710.2" x2="345.6" y2="723.2" stroke="#1a1a1a" stroke-width="0.85" stroke-linecap="round"/>
<line x1="347" y1="753.7" x2="344.8" y2="748.2" stroke="#1a1a1a" stroke-width="0.85" stroke-linecap="round"/>
<line x1="335.9" y1="658.8" x2="366.4" y2="661" stroke="#1a1a1a" stroke-width="1.2" stroke-linecap="round"/>
<text x="45.4" y="599.5" font-size="7.6" text-anchor="middle" fill="#1a1a1a" font-style="italic">A. equolifaciens</text>
<text x="30.3" y="652.6" font-size="9.1" text-anchor="middle" fill="#1a1a1a" font-style="italic">B. virosa</text>
<text x="152.5" y="647.8" font-size="9.3" text-anchor="middle" fill="#1a1a1a" font-style="italic">R. hominis</text>
<text x="166.5" y="599.2" font-size="8.15" text-anchor="middle" fill="#1a1a1a" font-style="italic">A. butyriciproducens</text>
<text x="242.9" y="597.4" font-size="9.2" text-anchor="middle" fill="#1a1a1a" font-style="italic">A. shahii</text>
<text x="281.7" y="635.3" font-size="7.4" text-anchor="middle" fill="#1a1a1a" font-style="italic">R. inulinivorans</text>
<text x="46.5" y="690.5" font-size="9.2" text-anchor="middle" fill="#1a1a1a" font-style="italic">E. ramosum</text>
<text x="102.7" y="703.2" font-size="9.0" text-anchor="middle" fill="#1a1a1a" font-style="italic">M. micronuciformis</text>
<text x="154.9" y="686.3" font-size="10.8" text-anchor="middle" fill="#1a1a1a" font-style="italic">E. avium</text>
<text x="204.2" y="697.2" font-size="9.9" text-anchor="middle" fill="#1a1a1a" font-style="italic">F. nucleatum</text>
<text x="245.3" y="685.3" font-size="8.0" text-anchor="middle" fill="#1a1a1a" font-style="italic">R. dentocariosa</text>
<text x="294.9" y="701.5" font-size="9.1" text-anchor="middle" fill="#1a1a1a" font-style="italic">A. hadrus</text>
<text x="361.6" y="702.9" font-size="9.2" text-anchor="middle" fill="#1a1a1a" font-style="italic">A. celatus</text>
<text x="371.4" y="670.5" font-size="7.9" text-anchor="middle" fill="#1a1a1a" font-style="italic">S. wiggsiae</text>
<text x="353.1" y="765.3" font-size="9.1" text-anchor="middle" fill="#1a1a1a" font-style="italic">C. catus</text>
<text x="28.0" y="727.2" font-size="8.1" text-anchor="middle" fill="#1a1a1a" font-style="italic">C. aerofaciens</text>
<text x="24.5" y="766.8" font-size="9.0" text-anchor="middle" fill="#1a1a1a" font-style="italic">B. obeum</text>
<text x="159.4" y="776.7" font-size="9.1" text-anchor="middle" fill="#1a1a1a" font-style="italic">C. comes</text>
<text x="89.3" y="629.1" font-size="11" text-anchor="middle" fill="#1a1a1a" >Bile</text>
<text x="89.3" y="642.7" font-size="11" text-anchor="middle" fill="#1a1a1a" >secretion</text>
<text x="216.0" y="632.2" font-size="9.4" text-anchor="middle" fill="#1a1a1a" >Cholesterol</text>
<text x="216.0" y="642.9" font-size="9.4" text-anchor="middle" fill="#1a1a1a" >metabolism</text>
<text x="224.2" y="740.7" font-size="9.2" text-anchor="middle" fill="#1a1a1a" >Secondary bile acid</text>
<text x="224.2" y="751.2" font-size="9.4" text-anchor="middle" fill="#1a1a1a" >biosynthesis</text>
<g transform="translate(90.4,748.9) rotate(-25)"><text x="0.0" y="-1.8" font-size="9.4" text-anchor="middle" fill="#1a1a1a" >Primary bile acid</text><text x="0.0" y="8.6" font-size="9.4" text-anchor="middle" fill="#1a1a1a" >biosynthesis</text></g>
<g transform="translate(326.4,651.1) rotate(-62)"><text x="0.0" y="-1.2" font-size="8" text-anchor="middle" fill="#1a1a1a" >Biotin</text><text x="0.0" y="7.8" font-size="8" text-anchor="middle" fill="#1a1a1a" >metabolism</text></g>
<g transform="translate(338.1,735.1) rotate(-21.8)"><text x="0.0" y="-1.2" font-size="8.7" text-anchor="middle" fill="#1a1a1a" >Pantothenate and CoA</text><text x="0.0" y="8.6" font-size="8.7" text-anchor="middle" fill="#1a1a1a" >biosynthesis</text></g>
<text x="401.8" y="582.8" font-size="10.9" text-anchor="start" fill="#1a1a1a" font-weight="bold">Group</text>
<circle cx="406.2" cy="595.8" r="4.4" fill="#e2e2e2"/>
<text x="414.3" y="599.5" font-size="10.4" text-anchor="start" fill="#1a1a1a" >Control</text>
<circle cx="406.2" cy="607.4" r="4.4" fill="#da8ec8"/>
<text x="414.3" y="611.1" font-size="10.4" text-anchor="start" fill="#1a1a1a" >HIC</text>
<line x1="398.9" y1="618.8" x2="414.3" y2="618.8" stroke="#1a1a1a" stroke-width="0.9"/>
<line x1="398.9" y1="629" x2="414.3" y2="629" stroke="#1a1a1a" stroke-width="1.8"/>
<text x="423.6" y="622.1" font-size="9" fill="#1a1a1a"><tspan font-style="italic" font-size="10">p</tspan> &lt; 0.05</text>
<text x="423.6" y="632.3" font-size="9" fill="#1a1a1a"><tspan font-style="italic" font-size="10">p</tspan> &lt; 0.01</text>
<circle cx="406.8" cy="642.9" r="10" fill="none" stroke="#aaa" stroke-width="0.7"/>
<text x="424.2" y="646.5" font-size="10" text-anchor="start" fill="#1a1a1a" >LDA=2</text>
<text x="401.8" y="691.9" font-size="11" text-anchor="start" fill="#1a1a1a" font-weight="bold">Metabolic pathways</text>
<circle cx="406.2" cy="704" r="4.4" fill="#9dbae2"/>
<text x="414.3" y="707.6" font-size="10" text-anchor="start" fill="#1a1a1a" textLength="91.4" lengthAdjust="spacingAndGlyphs">Bile acid metabolism</text>
<circle cx="406.2" cy="717.1" r="4.4" fill="#8e8ec0"/>
<text x="414.3" y="720.7" font-size="10" text-anchor="start" fill="#1a1a1a" textLength="86.4" lengthAdjust="spacingAndGlyphs">Biotin metabolism</text>
<circle cx="406.2" cy="730.2" r="4.4" fill="#a6d8a2"/>
<text x="414.3" y="733.8" font-size="10" text-anchor="start" fill="#1a1a1a" textLength="82.6" lengthAdjust="spacingAndGlyphs">Pantothenate and</text>
<text x="414.3" y="746.9" font-size="10" text-anchor="start" fill="#1a1a1a" textLength="80.6" lengthAdjust="spacingAndGlyphs">CoA biosynthesis</text>
<circle cx="406.8" cy="759.3" r="10" fill="none" stroke="#aaa" stroke-width="0.7"/>
<text x="423" y="762.8" font-size="9.5" fill="#1a1a1a"><tspan font-style="italic">NES</tspan>=1.5</text>
<text x="535.1" y="575.2" font-size="11.8" text-anchor="middle" fill="#1a1a1a" >H</text>
<text x="549.1" y="574.9" font-size="11" text-anchor="start" fill="#1a1a1a" >Diagnostic value of top 3</text>
<text x="549.1" y="587.2" font-size="11" text-anchor="start" fill="#1a1a1a" >species in the HIC group</text>
<path d="M566.7,626.7 L572.8,622.7 L584.1,618.6 L606.6,614.6 L661.2,612.8 L656.4,621.7 L648.0,627.0 L640.3,631.3 L627.4,637.1 L620.0,643.0 L613.0,648.4 L608.2,652.4 L595.0,654.0 L585.7,654.8 L579.3,658.0 L572.8,662.8 L566.7,666.0Z" fill="#e6f4f9"/>
<line x1="566.2" y1="745.0" x2="661.5" y2="612.6" stroke="#a0a0a0" stroke-width="0.7" stroke-dasharray="2.6,2.2"/>
<path d="M566.7,745.0 L566.7,648.4 L570.4,648.4 L570.4,644.0 L576.1,644.0 L582.5,635.0 L608.2,635.0 L614.6,630.7 L614.6,622.2 L636.3,622.2 L654.7,617.5 L661.2,613.0" fill="none" stroke="#45b3d6" stroke-width="1.2"/>
<rect x="566.2" y="612.6" width="95.3" height="132.4" fill="none" stroke="#777" stroke-width="1.2"/>
<line x1="564.0" y1="745.0" x2="566.2" y2="745.0" stroke="#6a6a6a" stroke-width="0.9"/>
<text x="563.2" y="749.1" font-size="11.5" text-anchor="end" fill="#1a1a1a" >0.0</text>
<line x1="564.0" y1="718.5" x2="566.2" y2="718.5" stroke="#6a6a6a" stroke-width="0.9"/>
<text x="563.2" y="722.6" font-size="11.5" text-anchor="end" fill="#1a1a1a" >0.2</text>
<line x1="564.0" y1="692.0" x2="566.2" y2="692.0" stroke="#6a6a6a" stroke-width="0.9"/>
<text x="563.2" y="696.1" font-size="11.5" text-anchor="end" fill="#1a1a1a" >0.4</text>
<line x1="564.0" y1="665.6" x2="566.2" y2="665.6" stroke="#6a6a6a" stroke-width="0.9"/>
<text x="563.2" y="669.7" font-size="11.5" text-anchor="end" fill="#1a1a1a" >0.6</text>
<line x1="564.0" y1="639.1" x2="566.2" y2="639.1" stroke="#6a6a6a" stroke-width="0.9"/>
<text x="563.2" y="643.2" font-size="11.5" text-anchor="end" fill="#1a1a1a" >0.8</text>
<line x1="564.0" y1="612.6" x2="566.2" y2="612.6" stroke="#6a6a6a" stroke-width="0.9"/>
<text x="563.2" y="616.7" font-size="11.5" text-anchor="end" fill="#1a1a1a" >1.0</text>
<line x1="566.2" y1="745.0" x2="566.2" y2="747.2" stroke="#6a6a6a" stroke-width="0.9"/>
<text x="566.2" y="758.5" font-size="11.5" text-anchor="middle" fill="#1a1a1a" >0.0</text>
<line x1="585.3" y1="745.0" x2="585.3" y2="747.2" stroke="#6a6a6a" stroke-width="0.9"/>
<text x="585.3" y="758.5" font-size="11.5" text-anchor="middle" fill="#1a1a1a" >0.2</text>
<line x1="604.3" y1="745.0" x2="604.3" y2="747.2" stroke="#6a6a6a" stroke-width="0.9"/>
<text x="604.3" y="758.5" font-size="11.5" text-anchor="middle" fill="#1a1a1a" >0.4</text>
<line x1="623.4" y1="745.0" x2="623.4" y2="747.2" stroke="#6a6a6a" stroke-width="0.9"/>
<text x="623.4" y="758.5" font-size="11.5" text-anchor="middle" fill="#1a1a1a" >0.6</text>
<line x1="642.4" y1="745.0" x2="642.4" y2="747.2" stroke="#6a6a6a" stroke-width="0.9"/>
<text x="642.4" y="758.5" font-size="11.5" text-anchor="middle" fill="#1a1a1a" >0.8</text>
<line x1="661.5" y1="745.0" x2="661.5" y2="747.2" stroke="#6a6a6a" stroke-width="0.9"/>
<text x="661.5" y="758.5" font-size="11.5" text-anchor="middle" fill="#1a1a1a" >1.0</text>
<text x="613.7" y="771.3" font-size="11.6" text-anchor="middle" fill="#1a1a1a" >1-Specificity (FPR)</text>
<text x="0.0" y="0.0" font-size="11.5" text-anchor="middle" fill="#1a1a1a" transform="translate(541.6,679.3) rotate(-90)">Sensitivity (TPR)</text>
<text x="659.1" y="727.7" font-size="10.6" text-anchor="end" fill="#1a1a1a" >AUC: 0.881</text>
<text x="659.1" y="741.9" font-size="10.6" text-anchor="end" fill="#1a1a1a" >CI: 0.785-0.978</text>
</svg>
</body></html>
